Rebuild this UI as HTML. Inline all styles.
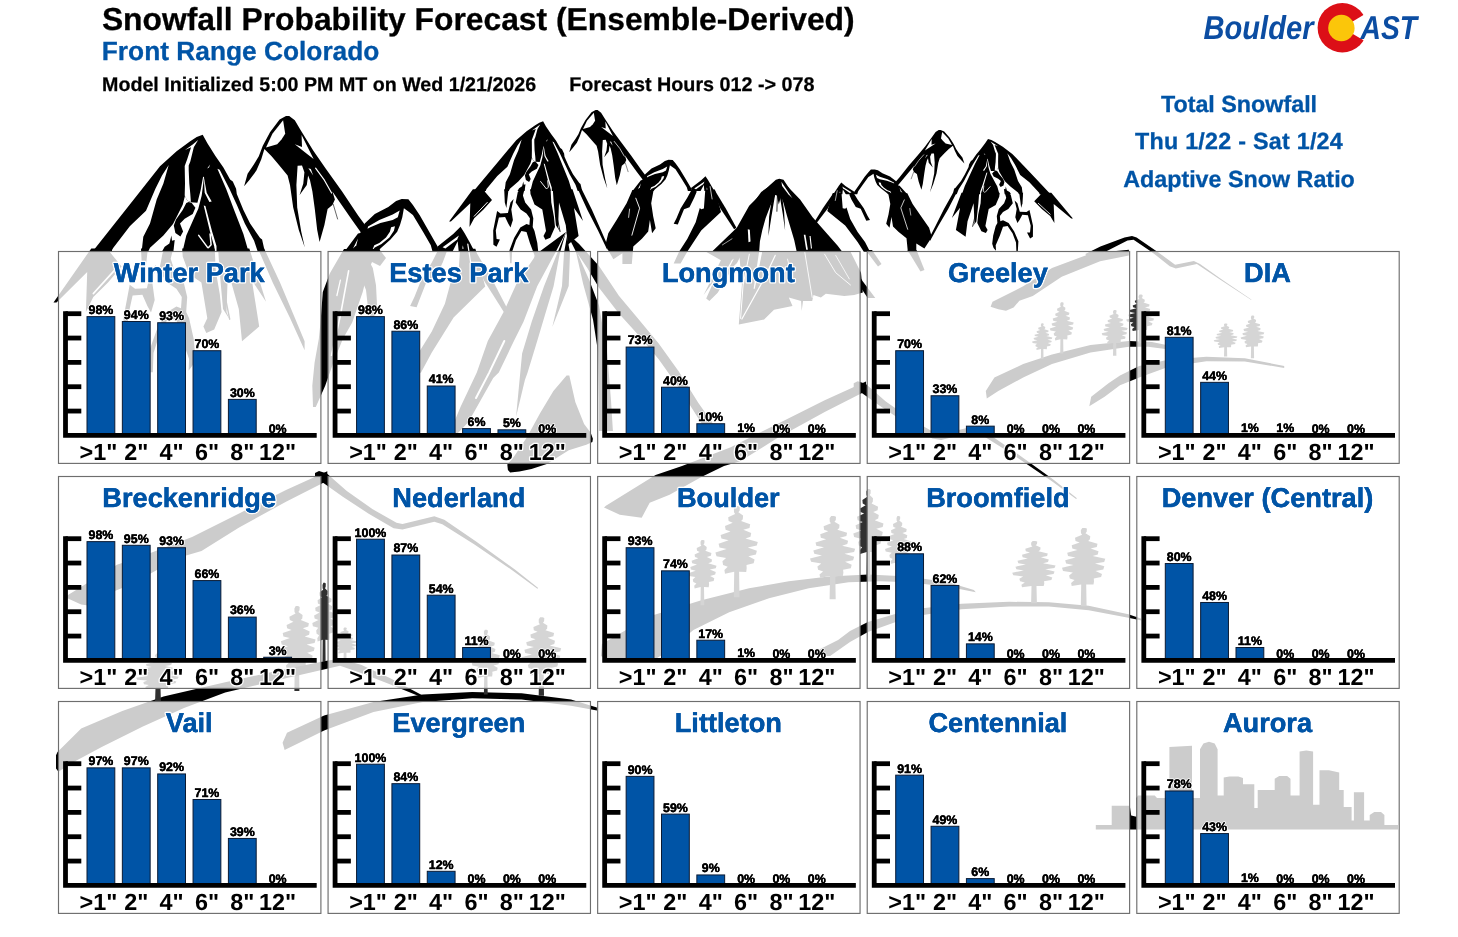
<!DOCTYPE html>
<html lang="en"><head><meta charset="utf-8"><title>Snowfall Probability Forecast</title>
<style>
html,body{margin:0;padding:0;background:#fff;}
body{width:1458px;height:937px;overflow:hidden;font-family:"Liberation Sans", sans-serif;}
svg{display:block;position:absolute;left:0;top:0;will-change:transform;}
text{font-family:"Liberation Sans", sans-serif;font-weight:bold;text-rendering:geometricPrecision;}
.t{font-size:27.2px;fill:#0054a6;text-anchor:middle;stroke:#fff;stroke-width:3px;paint-order:stroke;stroke-linejoin:round;}
.x{font-size:23.4px;fill:#000;text-anchor:middle;stroke:#fff;stroke-width:2.5px;paint-order:stroke;stroke-linejoin:round;}
.v{font-size:12.4px;fill:#000;text-anchor:middle;stroke:#fff;stroke-width:2px;paint-order:stroke;stroke-linejoin:round;}
.u{font-size:27.2px;fill:#0054a6;text-anchor:middle;stroke:#0054a6;stroke-width:0.4px;}
.w{font-size:12.4px;fill:#000;text-anchor:middle;stroke:#000;stroke-width:0.35px;}
.b{fill:#0054a6;stroke:#0a1a33;stroke-width:1px;}
.p{fill:rgba(255,255,255,0.8);stroke:#6e6e6e;stroke-width:1.15px;}
.ax{fill:none;stroke:#000;stroke-width:4.8px;}
.r{font-size:23.3px;fill:#0054a6;text-anchor:middle;stroke:#0054a6;stroke-width:0.3px;}
</style></head><body>
<svg width="1458" height="937" viewBox="0 0 1458 937">
<rect width="1458" height="937" fill="#fff"/>
<g id="mtn">
<polygon fill="#000" points="566.0,232.0 537.2,253.2 516.6,283.4 504.3,310.8 487.8,341.0 476.8,372.6 460.6,406.8 450.0,432.0 455.0,436.0 468.3,422.2 493.2,378.0 498.8,372.6 513.9,341.0 523.5,321.8 537.2,286.2 555.0,253.2"/>
<polyline fill="none" stroke="#fff" stroke-width="2.00" stroke-linejoin="round" stroke-linecap="round" points="504.3,341.0 489.2,372.6 476.0,398.0"/>
<polygon fill="#000" points="566.0,232.0 555.0,258.7 544.0,286.2 531.7,321.8 522.1,353.4 516.1,416.2 511.7,434.9 524.9,380.0 527.6,372.6 537.2,341.0 545.4,313.6 553.6,286.2 559.8,253.2"/>
<polygon fill="#000" points="567.0,236.0 570.0,253.0 568.7,286.0 552.3,327.0 562.0,286.0 564.0,253.0"/>
<polygon fill="#000" points="566.0,232.0 579.1,244.0 599.0,265.9 618.9,295.7 638.8,319.6 658.7,343.4 678.6,371.3 698.4,403.1 718.3,430.9 706.4,430.9 678.6,387.2 658.7,359.3 638.8,335.5 618.9,313.6 599.0,287.7 587.1,267.8 575.1,249.9"/>
<polygon fill="#000" points="575.1,248.0 589.1,279.8 599.0,305.6 607.0,351.4 610.9,399.1 612.9,430.9 599.0,430.9 599.0,399.1 598.0,351.4 593.0,319.6 583.1,283.8"/>
<polygon fill="#fff" points="244.1,186.3 249.2,180.2 256.4,170.6 261.2,159.4 264.4,149.0 271.6,156.2 279.6,165.8 287.6,175.4 290.0,185.0 293.2,207.4 298.8,229.9 304.8,247.5 312.0,300.0 320.0,341.0 304.6,341.3 294.8,317.8 280.0,282.4 264.8,251.4 260.1,238.1 250.1,223.4 243.4,210.1 236.8,194.0"/>
<polygon fill="#000" points="92.6,251.4 130.0,204.2 160.0,166.3 176.6,151.2 190.2,141.3 196.7,136.9 202.7,134.7 207.4,143.3 215.4,156.0 223.4,167.4 230.1,179.4 232.8,181.4 236.1,188.7 236.8,194.1 243.4,210.1 250.1,223.4 260.1,238.1 262.1,239.4 264.8,251.4"/>
<polygon fill="#fff" points="168.7,165.0 163.4,183.4 156.7,199.4 150.0,223.4 143.3,236.8 141.3,254.8 112.0,254.8 112.0,249.4 130.0,226.1 146.0,210.7 155.4,188.7 162.0,175.4"/>
<polygon fill="#fff" points="198.1,140.0 193.8,147.3 190.3,161.4 188.7,165.4 188.7,170.0 189.3,183.4 190.3,194.1 190.9,202.1 187.1,200.5 184.7,195.4 185.0,183.4 184.7,166.0 187.1,159.4 191.1,147.3 185.0,150.0 192.7,144.4"/>
<polygon fill="#fff" points="185.0,195.7 182.7,204.7 176.7,216.7 173.0,224.1 163.4,235.4 150.0,247.7 146.7,254.8 181.8,254.8 186.3,235.4 194.3,217.4 198.3,208.7 201.7,195.4 204.1,177.0 203.1,176.7 200.7,190.1 197.4,202.7 190.6,202.3 187.1,200.5"/>
<polygon fill="#000" points="188.7,202.1 191.7,203.1 195.4,207.7 192.7,214.1 184.7,218.7 180.0,223.4 183.1,231.4 180.4,236.4 175.4,233.0 173.8,225.4 176.0,219.4 182.7,210.1 186.3,203.1"/>
<polygon fill="#000" points="162.0,251.4 164.7,246.8 169.4,243.4 171.4,235.4 172.0,240.8 174.7,240.1 173.4,251.4"/>
<polygon fill="#fff" points="203.8,176.7 206.7,192.7 211.7,201.4 209.4,202.1 204.7,192.7"/>
<polygon fill="#fff" points="203.7,205.4 205.4,206.1 212.1,231.4 216.5,246.1 216.5,254.8 214.7,254.8 214.3,246.8 210.1,232.1"/>
<polyline fill="none" stroke="#fff" stroke-width="1.50" stroke-linejoin="round" stroke-linecap="round" points="198.7,235.4 208.1,248.1 211.1,244.8 210.1,234.1"/>
<polygon fill="#fff" points="217.4,168.7 219.7,169.8 229.4,188.7 236.8,204.7 244.8,223.4 254.1,240.8 258.8,254.8 249.4,254.8 243.4,234.1 234.1,210.1 226.1,188.7"/>
<polygon fill="#fff" points="207.1,168.4 210.1,164.4 209.0,167.6"/>
<polygon fill="#000" points="91.3,248.4 53.5,302.4 56.5,302.4 87.2,272.0 85.9,311.9 93.3,297.1 108.0,282.4 121.6,266.4 110.0,252.3 113.0,248.4"/>
<polyline fill="none" stroke="#fff" stroke-width="1.60" stroke-linejoin="round" stroke-linecap="round" points="114.2,270.6 93.3,293.6"/>
<polygon fill="#000" points="147.9,248.4 145.4,270.6 144.4,280.0 142.0,270.6 141.0,248.4"/>
<polygon fill="#000" points="156.0,264.7 151.0,270.6 146.9,288.3 135.1,288.8 129.7,284.7 123.5,317.8 123.8,341.3 128.7,344.9 134.1,332.5 128.9,331.9 127.7,317.8 132.6,295.6 142.4,294.7 147.4,306.0 151.0,312.4 154.7,300.1 152.3,282.4"/>
<polygon fill="#000" points="173.2,248.4 170.7,244.0 162.6,252.9 159.2,270.6 167.0,282.4 176.4,288.8 181.8,297.1 181.0,308.3 176.4,306.5 166.5,312.4 156.7,330.1 149.3,350.8 150.3,372.3 152.8,372.3 153.5,353.1 159.6,334.0 168.2,318.3 176.4,320.1 181.8,338.4 189.1,359.0 188.6,370.8 192.8,364.9 195.3,356.1 193.6,338.4 189.1,318.3 186.2,311.9 187.2,297.1 183.7,282.4 174.4,270.6 170.7,258.8"/>
<polygon fill="#000" points="214.7,248.4 215.7,270.6 219.8,294.2 221.6,311.9 214.2,329.6 206.3,333.1 203.4,326.6 207.3,318.3 201.4,282.4 189.1,274.1 182.7,256.4 182.2,248.4"/>
<polyline fill="none" stroke="#000" stroke-width="1.40" stroke-linejoin="round" stroke-linecap="round" points="223.5,288.3 229.7,319.2"/>
<polygon fill="#000" points="249.3,248.4 266.0,301.8 251.8,280.0 259.2,326.6 242.0,341.3 238.8,308.9 227.9,270.6 226.5,311.9 229.7,319.5 223.0,308.9 219.6,270.6 218.1,248.4"/>
<polygon fill="#000" points="264.1,248.4 280.0,282.4 294.8,317.8 304.6,341.3 304.6,350.2 289.9,317.8 272.7,282.4 257.9,248.4"/>
<polygon fill="#000" points="286.0,115.9 289.2,115.9 294.8,120.2 300.4,129.8 313.2,150.6 326.0,169.0 342.1,191.4 358.1,215.5 366.9,227.5 361.3,233.1 351.7,219.5 338.9,201.0 332.4,191.4 334.9,199.4 332.4,205.0 327.6,209.0 324.4,225.1 319.6,241.9 317.2,229.9 314.8,209.0 312.4,191.4 310.0,180.2 308.1,175.4 306.8,185.0 299.6,195.0 303.3,183.4 304.4,172.2 302.0,165.5 297.6,165.8 296.4,185.0 297.2,207.4 301.2,231.5 304.8,247.5 298.8,229.9 293.2,207.4 290.0,185.0 287.6,175.4 279.6,165.8 271.6,156.2 264.4,149.0 261.2,159.4 256.4,170.6 249.2,180.2 244.1,186.3 247.6,173.8 254.0,164.2 258.8,156.2 262.8,145.8 270.0,132.2 279.6,119.4"/>
<polygon fill="#fff" points="283.1,120.2 285.2,133.8 281.5,139.4 277.2,144.2 266.0,147.4 272.4,133.8"/>
<polygon fill="#fff" points="301.6,135.1 313.6,159.1 306.8,153.8 294.8,144.2 302.0,146.9"/>
<polyline fill="none" stroke="#fff" stroke-width="1.20" stroke-linejoin="round" stroke-linecap="round" points="315.6,168.2 324.4,180.2 331.6,193.0"/>
<polygon fill="#fff" points="308.4,168.2 313.2,175.4 310.8,169.0"/>
<polyline fill="none" stroke="#000" stroke-width="0.60" stroke-linejoin="round" stroke-linecap="round" points="333.2,204.2 337.6,219.0"/>
<polygon fill="#000" points="344.6,251.4 358.0,233.5 360.3,232.9 364.7,223.4 374.8,213.9 388.3,207.1 396.1,201.0 401.7,199.1 408.4,199.3 412.9,204.9 419.6,215.0 428.6,230.7 437.6,246.4 439.2,251.4 432.5,251.4 430.8,245.2 423.0,231.8 412.9,215.0 408.4,211.6 403.9,208.3 402.3,217.2 400.0,225.1 397.2,231.8 390.5,239.6 380.4,248.6 378.2,251.4"/>
<polygon fill="#fff" points="368.1,226.4 379.3,220.0 392.7,214.4 399.7,210.5 397.8,217.2 392.7,220.0 380.4,223.1 370.3,227.3 367.5,228.7"/>
<polygon fill="#fff" points="391.1,227.3 395.0,226.2 393.9,230.7 389.4,237.4 381.5,244.1 374.8,247.5 372.0,250.8 374.3,245.2 379.3,243.0 386.0,237.4 389.9,231.8"/>
<polygon fill="#fff" points="353.0,248.6 358.0,238.5 356.3,245.2"/>
<polygon fill="#000" points="437.6,246.4 453.2,234.0 460.5,226.8 464.5,232.9 470.1,243.0 474.5,251.4 438.7,251.4"/>
<polygon fill="#fff" points="442.6,247.3 458.9,235.4 457.2,239.6 445.4,248.6"/>
<polygon fill="#fff" points="451.6,253.6 457.7,241.3 458.9,253.6"/>
<polygon fill="#fff" points="461.7,253.6 462.8,245.2 464.5,253.6"/>
<polygon fill="#000" points="344.0,249.0 329.9,273.2 322.8,291.9 320.5,322.5 318.8,338.9 314.6,362.4 312.3,385.8 313.0,407.0 315.8,407.0 325.2,385.8 333.4,362.4 342.8,338.9 352.2,322.5 362.7,291.9 367.4,273.2 372.0,262.0 380.0,266.0 386.0,258.0 379.0,249.0"/>
<polygon fill="#000" points="364.0,252.0 372.8,268.0 376.0,285.2 377.0,305.0 372.5,323.0 368.0,308.0 366.0,290.0 358.0,270.0"/>
<polyline fill="none" stroke="#fff" stroke-width="1.60" stroke-linejoin="round" stroke-linecap="round" points="348.6,270.8 340.4,315.4 331.5,355.3"/>
<polyline fill="none" stroke="#fff" stroke-width="1.30" stroke-linejoin="round" stroke-linecap="round" points="340.4,280.2 336.9,295.5"/>
<polygon fill="#000" points="460.1,248.7 458.0,280.8 453.6,282.0 451.4,279.7 444.9,303.8 431.8,331.4 418.8,352.5 410.1,372.8 420.9,372.8 431.8,352.5 453.6,317.6 485.2,286.6 475.4,248.7"/>
<polygon fill="#000" points="471.0,249.8 484.1,280.8 505.9,315.3 509.6,313.0 492.8,280.8 474.9,249.8"/>
<polygon fill="#000" points="439.4,247.5 431.8,262.5 420.9,280.8 414.4,296.9 410.1,306.1 416.6,307.3 418.8,301.5 426.4,282.0 435.1,278.5 442.7,262.5 446.6,252.1"/>
<polyline fill="none" stroke="#fff" stroke-width="1.20" stroke-linejoin="round" stroke-linecap="round" points="467.8,244.1 471.0,264.8"/>
<polygon fill="#000" points="779.3,179.2 761.2,191.9 748.2,209.9 740.4,226.2 730.0,244.3 723.1,263.1 712.9,283.6 706.2,298.6 709.4,301.0 717.7,292.7 733.4,266.4 737.0,263.1 746.5,244.3 752.5,232.8 761.2,211.6 772.4,191.9"/>
<polyline fill="none" stroke="#fff" stroke-width="1.23" stroke-linejoin="round" stroke-linecap="round" points="740.4,244.3 730.9,263.1 722.6,278.3"/>
<polygon fill="#000" points="779.3,179.2 772.4,195.1 765.4,211.6 757.7,232.8 751.6,251.7 747.9,289.2 745.1,300.3 753.4,267.6 755.1,263.1 761.2,244.3 766.3,227.9 771.5,211.6 775.4,191.9"/>
<polygon fill="#000" points="779.9,181.6 781.8,191.7 781.0,211.4 770.7,235.9 776.8,211.4 778.0,191.7"/>
<polygon fill="#000" points="779.3,179.2 787.6,186.4 800.1,199.4 812.6,217.2 825.1,231.5 837.7,245.7 850.2,262.3 862.7,281.3 875.3,298.0 867.7,298.0 850.2,271.8 837.7,255.2 825.1,241.0 812.6,227.9 800.1,212.5 792.6,200.6 785.1,189.9"/>
<polygon fill="#000" points="785.1,188.7 793.8,207.7 800.1,223.2 805.1,250.5 807.6,279.0 808.9,298.0 800.1,298.0 800.1,279.0 799.5,250.5 796.3,231.5 790.1,210.1"/>
<polygon fill="#000" points="712.1,251.4 736.8,227.8 749.2,205.8 769.7,185.3 775.9,179.8 779.3,178.7 783.5,179.8 791.7,192.1 801.3,204.5 810.9,216.8 824.6,234.7 841.1,251.4"/>
<polygon fill="#fff" points="775.2,194.9 770.4,205.8 765.6,218.2 762.2,230.5 759.9,241.5 759.0,253.9 797.2,253.9 794.2,240.1 791.0,229.2 786.9,215.4 783.5,203.1 781.0,196.2 778.8,204.5 776.9,195.6"/>
<polygon fill="#000" points="772.8,192.8 775.2,194.2 771.4,216.8 768.4,236.0 769.1,216.8"/>
<polygon fill="#000" points="779.6,194.9 782.1,196.2 784.1,211.3 785.1,230.5 782.8,214.1"/>
<polyline fill="none" stroke="#000" stroke-width="0.80" stroke-linejoin="round" stroke-linecap="round" points="777.4,194.9 776.9,211.3"/>
<polygon fill="#fff" points="747.8,229.2 749.8,229.8 750.5,241.5 748.5,242.2"/>
<polyline fill="none" stroke="#fff" stroke-width="0.61" stroke-linejoin="round" stroke-linecap="round" points="722.4,244.9 732.0,238.8"/>
<polygon fill="#fff" points="803.8,234.7 805.4,234.7 807.9,249.7 806.2,249.7"/>
<polygon fill="#fff" points="809.5,236.0 810.6,236.0 812.0,248.4 810.9,248.4"/>
<polygon fill="#fff" points="781.4,181.8 792.4,198.3 788.3,194.2 782.1,186.0"/>
<polygon fill="#000" points="706.0,251.7 720.9,260.3 703.6,294.9 727.0,262.8 739.4,255.4 741.9,285.0 738.8,324.5 764.1,319.6 774.0,309.7 792.5,306.0 788.8,297.4 801.1,301.1 801.7,311.0 803.0,301.1 812.2,301.1 813.5,294.9 820.9,297.4 825.8,293.7 844.3,296.1 854.2,294.9 862.8,292.4 861.0,272.7 850.5,251.7"/>
<polyline fill="none" stroke="#fff" stroke-width="1.00" stroke-linejoin="round" stroke-linecap="round" points="749.3,254.2 743.1,285.0 740.6,318.4"/>
<polygon fill="#fff" points="759.1,251.7 762.2,251.7 754.8,288.7 753.6,288.7"/>
<polyline fill="none" stroke="#fff" stroke-width="1.20" stroke-linejoin="round" stroke-linecap="round" points="775.2,255.4 764.1,278.9 741.9,319.0"/>
<polyline fill="none" stroke="#fff" stroke-width="0.90" stroke-linejoin="round" stroke-linecap="round" points="804.8,252.3 812.2,297.4"/>
<polyline fill="none" stroke="#fff" stroke-width="0.90" stroke-linejoin="round" stroke-linecap="round" points="824.6,254.2 835.7,272.7 850.5,285.0"/>
<polyline fill="none" stroke="#fff" stroke-width="0.80" stroke-linejoin="round" stroke-linecap="round" points="835.7,255.4 849.3,278.9"/>
<polyline fill="none" stroke="#fff" stroke-width="0.80" stroke-linejoin="round" stroke-linecap="round" points="787.5,259.1 792.5,278.9"/>
<polygon fill="#fff" points="569.2,152.1 572.4,148.5 576.9,142.8 579.9,136.1 582.0,129.9 586.5,134.2 591.5,139.9 596.6,145.6 598.1,151.4 600.1,164.7 603.6,178.2 607.4,188.7 611.9,220.0 617.0,244.5 607.3,244.7 601.1,230.6 591.8,209.5 582.2,191.0 579.2,183.1 572.9,174.3 568.7,166.4 564.6,156.7"/>
<polygon fill="#000" points="473.7,191.0 497.3,162.8 516.2,140.2 526.6,131.2 535.2,125.3 539.3,122.7 543.1,121.3 546.0,126.5 551.1,134.1 556.1,140.8 560.3,148.0 562.0,149.2 564.1,153.6 564.5,156.8 568.8,166.3 573.0,174.3 579.3,183.1 580.5,183.9 582.2,191.0"/>
<polygon fill="#fff" points="521.7,139.4 518.3,150.4 514.1,160.0 509.9,174.3 505.7,182.3 504.4,193.0 485.9,193.0 485.9,189.8 497.3,175.9 507.4,166.7 513.3,153.6 517.5,145.6"/>
<polygon fill="#fff" points="540.2,124.5 537.5,128.9 535.3,137.3 534.3,139.6 534.3,142.4 534.6,150.4 535.3,156.8 535.6,161.6 533.3,160.6 531.8,157.6 531.9,150.4 531.8,140.0 533.3,136.1 535.8,128.9 531.9,130.5 536.8,127.1"/>
<polygon fill="#fff" points="531.9,157.7 530.5,163.2 526.7,170.3 524.4,174.7 518.3,181.5 509.9,188.8 507.8,193.0 529.9,193.0 532.8,181.5 537.8,170.7 540.3,165.5 542.4,157.6 543.9,146.6 543.4,146.4 541.8,154.4 539.7,162.0 535.5,161.7 533.3,160.6"/>
<polygon fill="#000" points="534.3,161.6 536.1,162.2 538.5,164.9 536.8,168.7 531.8,171.5 528.8,174.3 530.7,179.1 529.1,182.0 525.9,180.0 524.9,175.5 526.3,171.9 530.5,166.3 532.8,162.2"/>
<polygon fill="#000" points="517.5,191.0 519.1,188.2 522.1,186.3 523.3,181.5 523.8,184.7 525.5,184.3 524.6,191.0"/>
<polygon fill="#fff" points="543.8,146.4 545.6,156.0 548.7,161.2 547.3,161.6 544.4,156.0"/>
<polygon fill="#fff" points="543.7,163.5 544.8,163.9 549.0,179.1 551.8,187.8 551.8,193.0 550.7,193.0 550.4,188.2 547.7,179.5"/>
<polyline fill="none" stroke="#fff" stroke-width="0.92" stroke-linejoin="round" stroke-linecap="round" points="540.6,181.5 546.5,189.0 548.4,187.1 547.7,180.7"/>
<polygon fill="#fff" points="552.4,141.6 553.8,142.3 559.9,153.6 564.5,163.2 569.6,174.3 575.5,184.7 578.4,193.0 572.5,193.0 568.8,180.7 562.9,166.3 557.8,153.6"/>
<polygon fill="#fff" points="545.9,141.5 547.7,139.1 547.1,141.0"/>
<polygon fill="#000" points="472.9,189.2 449.1,221.5 450.9,221.5 470.3,203.3 469.5,227.1 474.2,218.3 483.5,209.5 492.0,200.0 484.7,191.5 486.6,189.2"/>
<polyline fill="none" stroke="#fff" stroke-width="0.98" stroke-linejoin="round" stroke-linecap="round" points="487.3,202.4 474.2,216.2"/>
<polygon fill="#000" points="508.5,189.2 507.0,202.4 506.4,208.1 504.8,202.4 504.2,189.2"/>
<polygon fill="#000" points="513.6,198.9 510.5,202.4 507.9,213.0 500.5,213.4 497.1,210.9 493.2,230.6 493.4,244.7 496.5,246.8 499.9,239.4 496.6,239.1 495.8,230.6 498.9,217.4 505.1,216.9 508.2,223.6 510.5,227.5 512.9,220.1 511.3,209.5"/>
<polygon fill="#000" points="524.5,189.2 522.9,186.6 517.8,191.9 515.7,202.4 520.6,209.5 526.5,213.4 529.9,218.3 529.4,225.0 526.5,223.9 520.3,227.5 514.1,238.0 509.5,250.3 510.1,263.2 511.6,263.2 512.1,251.8 516.0,240.3 521.4,231.0 526.5,232.0 529.9,242.9 534.5,255.3 534.2,262.3 536.9,258.8 538.4,253.5 537.3,242.9 534.5,231.0 532.7,227.1 533.3,218.3 531.1,209.5 525.2,202.4 522.9,195.4"/>
<polygon fill="#000" points="550.6,189.2 551.3,202.4 553.9,216.5 555.0,227.1 550.3,237.7 545.4,239.8 543.5,235.9 546.0,231.0 542.3,209.5 534.5,204.6 530.5,194.0 530.2,189.2"/>
<polyline fill="none" stroke="#000" stroke-width="0.86" stroke-linejoin="round" stroke-linecap="round" points="556.2,213.0 560.1,231.5"/>
<polygon fill="#000" points="572.5,189.2 583.0,221.1 574.0,208.1 578.6,235.9 567.8,244.7 565.8,225.3 559.0,202.4 558.1,227.1 560.1,231.7 555.9,225.3 553.7,202.4 552.8,189.2"/>
<polygon fill="#000" points="581.7,189.2 591.8,209.5 601.1,230.6 607.3,244.7 607.3,250.0 598.0,230.6 587.2,209.5 577.9,189.2"/>
<polygon fill="#000" points="595.6,110.1 597.6,110.1 601.1,112.7 604.7,118.4 612.7,130.8 620.8,141.8 630.9,155.2 641.0,169.5 646.5,176.7 643.0,180.1 636.9,171.9 628.9,160.9 624.8,155.2 626.3,160.0 624.8,163.3 621.8,165.7 619.8,175.3 616.8,185.3 615.2,178.1 613.7,165.7 612.2,155.2 610.7,148.5 609.5,145.7 608.7,151.4 604.2,157.3 606.5,150.4 607.2,143.7 605.7,139.7 602.8,139.9 602.1,151.4 602.6,164.8 605.2,179.1 607.4,188.7 603.6,178.1 600.1,164.8 598.1,151.4 596.6,145.7 591.5,139.9 586.5,134.2 582.0,129.9 579.9,136.1 576.9,142.8 572.4,148.5 569.2,152.2 571.4,144.7 575.4,139.0 578.4,134.2 581.0,128.0 585.5,119.9 591.5,112.2"/>
<polygon fill="#fff" points="593.8,112.7 595.1,120.8 592.8,124.2 590.0,127.0 583.0,128.9 587.0,120.8"/>
<polygon fill="#fff" points="605.4,121.6 612.9,135.9 608.7,132.8 601.1,127.0 605.7,128.6"/>
<polyline fill="none" stroke="#fff" stroke-width="0.74" stroke-linejoin="round" stroke-linecap="round" points="614.2,141.4 619.8,148.5 624.3,156.2"/>
<polygon fill="#fff" points="609.7,141.4 612.7,145.7 611.2,141.8"/>
<polyline fill="none" stroke="#000" stroke-width="0.45" stroke-linejoin="round" stroke-linecap="round" points="625.3,162.9 628.1,171.7"/>
<polygon fill="#000" points="632.5,191.0 640.9,180.3 642.3,180.0 645.2,174.3 651.5,168.6 660.0,164.6 664.9,160.9 668.5,159.8 672.7,159.9 675.5,163.2 679.8,169.3 685.4,178.6 691.0,188.0 692.1,191.0 687.9,191.0 686.8,187.3 681.9,179.3 675.5,169.3 672.7,167.3 669.9,165.3 668.8,170.6 667.4,175.3 665.6,179.3 661.4,184.0 655.0,189.3 653.6,191.0"/>
<polygon fill="#fff" points="647.3,176.1 654.3,172.3 662.8,168.9 667.2,166.6 666.0,170.6 662.8,172.3 655.0,174.1 648.7,176.6 646.9,177.4"/>
<polygon fill="#fff" points="661.8,176.6 664.2,176.0 663.5,178.6 660.7,182.6 655.8,186.7 651.5,188.7 649.8,190.7 651.2,187.3 654.3,186.0 658.6,182.6 661.0,179.3"/>
<polygon fill="#fff" points="637.8,189.3 640.9,183.3 639.9,187.3"/>
<polygon fill="#000" points="691.0,188.0 700.9,180.6 705.5,176.3 708.0,180.0 711.5,186.0 714.3,191.0 691.8,191.0"/>
<polygon fill="#fff" points="694.2,188.5 704.5,181.4 703.4,184.0 696.0,189.3"/>
<polygon fill="#fff" points="699.9,192.3 703.8,185.0 704.5,192.3"/>
<polygon fill="#fff" points="706.2,192.3 706.9,187.3 708.0,192.3"/>
<polygon fill="#000" points="632.4,189.9 626.6,203.2 616.6,219.9 608.3,233.2 605.8,243.2 606.6,247.4 613.4,259.3 622.4,253.2 622.4,264.0 631.8,264.0 633.3,246.5 641.9,238.7 648.2,231.5 649.9,219.9 652.1,233.2 655.7,228.2 653.2,216.6 651.2,203.2 653.6,189.9"/>
<polyline fill="none" stroke="#fff" stroke-width="0.92" stroke-linejoin="round" stroke-linecap="round" points="635.8,198.2 639.6,208.2 631.9,235.2"/>
<polyline fill="none" stroke="#fff" stroke-width="0.74" stroke-linejoin="round" stroke-linecap="round" points="629.6,209.1 628.6,217.4"/>
<polygon fill="#000" points="705.3,189.4 703.9,208.6 701.2,209.3 699.8,207.9 695.7,222.3 687.4,238.8 679.2,251.4 673.7,263.5 680.6,263.5 687.4,251.4 701.2,230.5 721.0,212.0 714.9,189.4"/>
<polygon fill="#000" points="712.1,190.1 720.4,208.6 734.1,229.2 736.4,227.8 725.8,208.6 714.6,190.1"/>
<polygon fill="#000" points="692.2,188.7 687.4,197.6 680.6,208.6 676.5,218.2 673.7,223.7 677.8,224.4 679.2,220.9 684.0,209.3 689.5,207.2 694.3,197.6 696.8,191.4"/>
<polyline fill="none" stroke="#fff" stroke-width="0.74" stroke-linejoin="round" stroke-linecap="round" points="710.1,186.6 712.1,199.0"/>
<polygon fill="#fff" points="964.4,163.3 961.5,160.5 957.4,155.9 954.7,150.6 952.9,145.7 948.8,149.1 944.2,153.6 939.7,158.2 938.3,162.7 936.5,173.3 933.3,184.0 929.9,192.4 925.8,217.2 921.2,236.7 930.0,236.8 935.6,225.7 944.0,208.9 952.6,194.2 955.3,187.9 961.0,180.9 964.8,174.6 968.6,167.0"/>
<polygon fill="#000" points="1050.6,194.2 1029.4,171.8 1012.3,153.9 1002.8,146.7 995.1,142.0 991.4,140.0 988.0,138.9 985.3,143.0 980.8,149.0 976.2,154.4 972.4,160.1 970.9,161.0 969.0,164.5 968.6,167.0 964.8,174.6 961.0,180.9 955.3,187.9 954.2,188.5 952.7,194.2"/>
<polygon fill="#fff" points="1007.3,153.2 1010.4,162.0 1014.2,169.6 1018.0,180.9 1021.8,187.3 1022.9,195.8 1039.6,195.8 1039.6,193.3 1029.4,182.2 1020.2,174.9 1014.9,164.5 1011.1,158.2"/>
<polygon fill="#fff" points="990.6,141.4 993.1,144.9 995.0,151.5 995.9,153.4 995.9,155.6 995.6,162.0 995.0,167.0 994.7,170.8 996.8,170.1 998.2,167.7 998.1,162.0 998.2,153.7 996.8,150.6 994.6,144.9 998.1,146.2 993.7,143.5"/>
<polygon fill="#fff" points="998.1,167.8 999.4,172.1 1002.8,177.8 1004.9,181.3 1010.4,186.6 1018.0,192.5 1019.9,195.8 999.9,195.8 997.3,186.6 992.7,178.1 990.5,174.0 988.6,167.7 987.2,158.9 987.7,158.8 989.1,165.1 991.0,171.1 994.9,170.9 996.8,170.1"/>
<polygon fill="#000" points="995.9,170.8 994.3,171.3 992.1,173.5 993.7,176.5 998.2,178.7 1000.9,180.9 999.1,184.7 1000.6,187.1 1003.5,185.5 1004.4,181.9 1003.2,179.0 999.4,174.6 997.3,171.3"/>
<polygon fill="#000" points="1011.1,194.2 1009.6,192.0 1006.9,190.4 1005.8,186.6 1005.4,189.2 1003.9,188.9 1004.7,194.2"/>
<polygon fill="#fff" points="987.4,158.8 985.7,166.4 982.9,170.5 984.2,170.8 986.8,166.4"/>
<polygon fill="#fff" points="987.4,172.4 986.4,172.7 982.6,184.7 980.1,191.7 980.1,195.8 981.1,195.8 981.4,192.0 983.8,185.1"/>
<polyline fill="none" stroke="#fff" stroke-width="0.78" stroke-linejoin="round" stroke-linecap="round" points="990.2,186.6 984.9,192.6 983.2,191.1 983.8,186.0"/>
<polygon fill="#fff" points="979.6,155.0 978.3,155.5 972.8,164.5 968.6,172.1 964.0,180.9 958.7,189.2 956.1,195.8 961.4,195.8 964.8,186.0 970.1,174.6 974.7,164.5"/>
<polygon fill="#fff" points="985.5,154.9 983.8,153.0 984.4,154.5"/>
<polygon fill="#000" points="1051.3,192.8 1072.9,218.4 1071.2,218.4 1053.7,204.0 1054.4,222.9 1050.2,215.9 1041.8,208.9 1034.2,201.3 1040.7,194.6 1039.0,192.8"/>
<polyline fill="none" stroke="#fff" stroke-width="0.83" stroke-linejoin="round" stroke-linecap="round" points="1038.3,203.3 1050.2,214.2"/>
<polygon fill="#000" points="1019.2,192.8 1020.6,203.3 1021.2,207.8 1022.5,203.3 1023.1,192.8"/>
<polygon fill="#000" points="1014.6,200.5 1017.4,203.3 1019.8,211.7 1026.5,212.0 1029.5,210.0 1033.0,225.7 1032.9,236.8 1030.1,238.5 1027.0,232.6 1030.0,232.4 1030.7,225.7 1027.9,215.2 1022.3,214.8 1019.5,220.1 1017.4,223.1 1015.3,217.3 1016.7,208.9"/>
<polygon fill="#000" points="1004.8,192.8 1006.2,190.7 1010.8,194.9 1012.8,203.3 1008.3,208.9 1003.0,212.0 999.9,215.9 1000.3,221.2 1003.0,220.3 1008.6,223.1 1014.2,231.5 1018.4,241.3 1017.8,251.5 1016.4,251.5 1016.0,242.4 1012.5,233.3 1007.6,225.9 1003.0,226.8 999.9,235.4 995.7,245.2 996.0,250.8 993.6,248.0 992.2,243.8 993.2,235.4 995.7,225.9 997.4,222.9 996.8,215.9 998.8,208.9 1004.1,203.3 1006.2,197.7"/>
<polygon fill="#000" points="981.2,192.8 980.6,203.3 978.2,214.5 977.3,222.9 981.4,231.2 985.9,232.9 987.6,229.9 985.4,225.9 988.7,208.9 995.7,205.0 999.3,196.6 999.6,192.8"/>
<polyline fill="none" stroke="#000" stroke-width="0.73" stroke-linejoin="round" stroke-linecap="round" points="976.1,211.7 972.6,226.4"/>
<polygon fill="#000" points="961.5,192.8 951.9,218.1 960.1,207.8 955.9,229.9 965.6,236.8 967.5,221.5 973.6,203.3 974.5,222.9 972.6,226.5 976.4,221.5 978.4,203.3 979.2,192.8"/>
<polygon fill="#000" points="953.1,192.8 944.0,208.9 935.6,225.7 930.0,236.8 930.0,241.0 938.4,225.7 948.2,208.9 956.6,192.8"/>
<polygon fill="#000" points="940.6,130.0 938.7,130.0 935.6,132.0 932.4,136.6 925.1,146.4 917.8,155.2 908.7,165.8 899.6,177.2 894.6,182.9 897.8,185.5 903.2,179.1 910.5,170.3 914.2,165.8 912.8,169.6 914.2,172.2 916.9,174.1 918.7,181.7 921.4,189.7 922.8,184.0 924.2,174.1 925.5,165.8 926.9,160.5 928.0,158.2 928.7,162.8 932.8,167.5 930.7,162.0 930.1,156.7 931.5,153.5 934.0,153.6 934.7,162.8 934.2,173.4 931.9,184.8 929.9,192.3 933.3,184.0 936.5,173.4 938.3,162.8 939.7,158.2 944.2,153.6 948.8,149.1 952.9,145.7 954.7,150.6 957.4,155.9 961.5,160.5 964.4,163.4 962.4,157.4 958.8,152.9 956.1,149.1 953.8,144.2 949.7,137.7 944.2,131.6"/>
<polygon fill="#fff" points="942.2,132.0 941.0,138.5 943.1,141.1 945.6,143.4 952.0,144.9 948.3,138.5"/>
<polygon fill="#fff" points="931.7,139.1 924.9,150.5 928.7,148.0 935.6,143.4 931.5,144.7"/>
<polyline fill="none" stroke="#fff" stroke-width="0.63" stroke-linejoin="round" stroke-linecap="round" points="923.7,154.8 918.7,160.5 914.6,166.5"/>
<polygon fill="#fff" points="927.8,154.8 925.1,158.2 926.5,155.2"/>
<polyline fill="none" stroke="#000" stroke-width="0.45" stroke-linejoin="round" stroke-linecap="round" points="913.7,171.9 911.2,178.8"/>
<polygon fill="#000" points="907.3,194.2 899.6,185.7 898.3,185.4 895.8,180.9 890.0,176.4 882.4,173.2 877.9,170.3 874.7,169.4 870.9,169.5 868.4,172.2 864.5,176.9 859.4,184.4 854.3,191.8 853.4,194.2 857.2,194.2 858.2,191.3 862.6,184.9 868.4,176.9 870.9,175.4 873.5,173.8 874.4,178.0 875.7,181.7 877.3,184.9 881.1,188.6 886.9,192.9 888.1,194.2"/>
<polygon fill="#fff" points="893.9,182.4 887.5,179.3 879.8,176.7 875.9,174.8 877.0,178.0 879.8,179.3 886.9,180.8 892.6,182.8 894.2,183.4"/>
<polygon fill="#fff" points="880.8,182.8 878.6,182.3 879.2,184.4 881.8,187.6 886.2,190.8 890.0,192.3 891.6,193.9 890.4,191.3 887.5,190.2 883.7,187.6 881.4,184.9"/>
<polygon fill="#fff" points="902.5,192.9 899.6,188.1 900.6,191.3"/>
<polygon fill="#000" points="854.3,191.8 845.4,186.0 841.3,182.5 839.0,185.4 835.9,190.2 833.3,194.2 853.7,194.2"/>
<polygon fill="#fff" points="851.5,192.2 842.2,186.6 843.2,188.6 849.9,192.9"/>
<polygon fill="#fff" points="846.4,195.3 842.9,189.4 842.2,195.3"/>
<polygon fill="#fff" points="840.6,195.3 840.0,191.3 839.0,195.3"/>
<polygon fill="#000" points="907.3,193.3 912.6,203.9 921.6,217.1 929.1,227.7 931.4,235.6 930.6,238.9 924.4,248.5 916.3,243.6 916.3,252.2 907.9,252.2 906.5,238.3 898.7,232.1 893.0,226.4 891.5,217.1 889.5,227.7 886.2,223.7 888.5,214.5 890.3,203.9 888.2,193.3"/>
<polyline fill="none" stroke="#fff" stroke-width="0.78" stroke-linejoin="round" stroke-linecap="round" points="904.3,199.9 900.8,207.9 907.7,229.3"/>
<polyline fill="none" stroke="#fff" stroke-width="0.63" stroke-linejoin="round" stroke-linecap="round" points="909.8,208.5 910.8,215.1"/>
<polygon fill="#000" points="841.5,192.9 842.7,208.2 845.2,208.7 846.5,207.6 850.2,219.1 857.6,232.1 865.0,242.1 870.0,251.7 863.8,251.7 857.6,242.1 845.2,225.6 827.3,210.9 832.8,192.9"/>
<polygon fill="#000" points="835.3,193.5 827.9,208.2 815.5,224.5 813.4,223.4 822.9,208.2 833.1,193.5"/>
<polygon fill="#000" points="853.3,192.4 857.6,199.4 863.8,208.2 867.5,215.8 870.0,220.1 866.3,220.7 865.0,218.0 860.7,208.7 855.8,207.1 851.4,199.4 849.2,194.5"/>
<polyline fill="none" stroke="#fff" stroke-width="0.63" stroke-linejoin="round" stroke-linecap="round" points="837.2,190.7 835.3,200.5"/>
<polygon fill="#000" points="865.5,250.0 872.0,250.0 881.5,264.0 878.0,266.5"/>
<polygon fill="#000" points="907.5,250.0 916.5,250.0 924.5,270.0 920.5,271.5"/>
<polygon fill="#000" points="992.5,301.7 1023.2,286.3 1052.0,268.0 1090.5,253.6 1128.9,249.8 1128.9,255.6 1100.1,261.3 1061.7,276.7 1032.8,295.9 1019.4,300.7 1013.6,307.4 1006.0,310.7 998.3,309.3 990.6,306.8"/>
<polygon fill="#000" points="1085.3,254.1 1100.4,246.6 1124.5,237.5 1132.0,236.0 1136.6,237.5 1157.7,251.9 1175.1,264.7 1193.9,260.9 1200.0,263.9 1221.1,279.0 1251.3,299.4 1251.3,300.0 1221.1,280.2 1196.9,263.9 1175.8,268.5 1169.8,266.2 1151.7,251.9 1133.6,239.8 1127.5,240.6 1104.9,251.9 1089.8,260.2"/>
<polygon fill="#000" points="985.8,391.0 994.4,377.5 1023.2,364.1 1052.0,354.5 1090.5,344.9 1128.9,341.0 1151.9,342.0 1175.0,346.8 1171.1,349.7 1148.1,346.8 1128.9,346.8 1090.5,352.5 1052.0,364.1 1023.2,377.5 998.3,391.0 986.8,398.6"/>
<polygon fill="#303030" points="1041.6,323.3 1042.8,323.3 1043.7,323.7 1043.6,325.1 1043.0,325.8 1045.3,327.1 1045.1,328.6 1044.3,329.3 1048.6,330.6 1048.3,332.0 1045.4,332.7 1049.1,334.0 1048.8,335.5 1046.4,336.1 1052.3,337.5 1051.8,338.9 1047.5,339.6 1051.8,340.9 1051.3,342.3 1047.8,343.0 1050.7,344.3 1050.3,345.8 1046.9,346.5 1047.0,347.8 1046.8,349.2 1043.4,349.1 1043.5,359.1 1040.9,359.1 1041.0,349.1 1036.6,349.9 1036.3,348.5 1037.9,347.2 1035.7,346.5 1035.4,345.0 1037.1,343.7 1032.6,343.0 1032.1,341.6 1037.4,340.3 1034.0,339.6 1033.6,338.1 1038.4,336.8 1034.9,336.1 1034.5,334.7 1039.3,333.4 1036.9,332.7 1036.6,331.3 1040.3,330.0 1038.4,329.3 1038.2,327.8 1041.5,326.5 1040.9,325.8 1040.9,324.4"/>
<polygon fill="#303030" points="1061.0,302.3 1062.6,302.3 1063.6,302.8 1063.5,304.9 1062.8,305.9 1065.4,307.7 1065.2,309.8 1064.3,310.8 1069.4,312.7 1069.0,314.7 1065.6,315.7 1070.0,317.6 1069.6,319.7 1066.8,320.7 1073.7,322.5 1073.1,324.6 1068.0,325.6 1073.2,327.5 1072.6,329.5 1068.4,330.5 1071.9,332.4 1071.4,334.5 1067.3,335.5 1067.5,337.3 1067.2,339.4 1063.2,339.3 1063.4,353.6 1060.2,353.6 1060.4,339.3 1055.2,340.4 1054.9,338.3 1056.8,336.5 1054.1,335.5 1053.7,333.4 1055.8,331.5 1050.4,330.5 1049.8,328.5 1056.1,326.6 1052.1,325.6 1051.6,323.5 1057.3,321.7 1053.2,320.7 1052.7,318.6 1058.3,316.7 1055.5,315.7 1055.2,313.7 1059.5,311.8 1057.3,310.8 1057.0,308.7 1060.9,306.8 1060.3,305.9 1060.2,303.8"/>
<polygon fill="#303030" points="1113.9,310.0 1115.5,310.0 1116.6,310.5 1116.5,312.3 1115.8,313.2 1118.6,314.9 1118.4,316.7 1117.4,317.6 1123.0,319.3 1122.5,321.1 1118.8,322.0 1123.5,323.7 1123.1,325.5 1120.1,326.4 1127.6,328.1 1127.0,329.9 1121.5,330.8 1127.0,332.5 1126.4,334.3 1121.8,335.2 1125.6,336.8 1125.1,338.7 1120.7,339.6 1120.8,341.2 1120.5,343.1 1116.2,343.0 1116.4,355.7 1113.0,355.7 1113.2,343.0 1107.6,344.0 1107.2,342.1 1109.2,340.4 1106.4,339.6 1106.0,337.7 1108.2,336.1 1102.4,335.2 1101.7,333.3 1108.6,331.7 1104.2,330.8 1103.6,328.9 1109.8,327.3 1105.4,326.4 1104.9,324.6 1110.9,322.9 1107.9,322.0 1107.6,320.2 1112.2,318.5 1109.8,317.6 1109.5,315.8 1113.7,314.1 1113.1,313.2 1113.0,311.4"/>
<polygon fill="#303030" points="1139.6,294.5 1141.4,294.5 1142.6,295.0 1142.5,297.0 1141.7,297.9 1144.8,299.7 1144.6,301.7 1143.5,302.6 1149.6,304.4 1149.1,306.4 1145.0,307.3 1150.2,309.1 1149.7,311.1 1146.4,312.1 1154.7,313.8 1154.0,315.8 1147.9,316.8 1154.0,318.6 1153.4,320.5 1148.3,321.5 1152.5,323.3 1151.9,325.2 1147.1,326.2 1147.2,328.0 1146.9,330.0 1142.2,329.9 1142.4,343.5 1138.6,343.5 1138.8,329.9 1132.7,330.9 1132.2,328.9 1134.5,327.1 1131.4,326.2 1130.9,324.2 1133.4,322.4 1127.0,321.5 1126.2,319.5 1133.8,317.7 1129.0,316.8 1128.3,314.8 1135.1,313.0 1130.2,312.1 1129.7,310.1 1136.4,308.3 1133.1,307.3 1132.7,305.4 1137.8,303.6 1135.1,302.6 1134.8,300.7 1139.5,298.9 1138.7,297.9 1138.6,295.9"/>
<polygon fill="#000" points="1091.2,396.7 1108.5,383.3 1120.0,375.6 1139.2,366.0 1168.0,359.8 1206.4,356.8 1244.8,358.3 1284.2,366.0 1284.2,367.9 1244.8,361.4 1206.4,361.2 1168.0,367.0 1139.2,377.5 1120.0,385.2 1104.6,396.7 1089.3,406.3"/>
<polygon fill="#303030" points="1224.8,323.4 1226.3,323.4 1227.3,323.7 1227.3,325.0 1226.6,325.7 1229.2,326.9 1229.0,328.2 1228.1,328.8 1233.2,330.1 1232.8,331.4 1229.4,332.0 1233.7,333.2 1233.3,334.6 1230.5,335.2 1237.4,336.4 1236.8,337.7 1231.8,338.4 1236.9,339.6 1236.3,340.9 1232.1,341.6 1235.6,342.8 1235.1,344.1 1231.1,344.7 1231.2,345.9 1230.9,347.3 1227.0,347.2 1227.2,356.4 1224.0,356.4 1224.2,347.2 1219.1,347.9 1218.7,346.6 1220.6,345.4 1218.0,344.7 1217.6,343.4 1219.7,342.2 1214.3,341.6 1213.7,340.2 1220.0,339.0 1216.0,338.4 1215.5,337.0 1221.1,335.8 1217.0,335.2 1216.6,333.9 1222.2,332.7 1219.4,332.0 1219.1,330.7 1223.3,329.5 1221.1,328.8 1220.9,327.5 1224.7,326.3 1224.1,325.7 1224.0,324.3"/>
<polygon fill="#303030" points="1251.8,315.6 1253.2,315.6 1254.2,316.0 1254.2,317.7 1253.5,318.5 1256.1,320.1 1255.9,321.8 1255.0,322.7 1260.1,324.2 1259.7,325.9 1256.3,326.8 1260.6,328.3 1260.2,330.1 1257.5,330.9 1264.3,332.4 1263.7,334.2 1258.7,335.0 1263.8,336.5 1263.2,338.3 1259.0,339.1 1262.5,340.7 1262.0,342.4 1258.0,343.2 1258.1,344.8 1257.8,346.5 1253.9,346.4 1254.1,358.3 1250.9,358.3 1251.1,346.4 1246.0,347.3 1245.6,345.6 1247.5,344.0 1244.9,343.2 1244.5,341.5 1246.6,339.9 1241.2,339.1 1240.6,337.4 1246.9,335.8 1242.9,335.0 1242.4,333.3 1248.0,331.7 1244.0,330.9 1243.5,329.1 1249.1,327.6 1246.3,326.8 1246.0,325.0 1250.2,323.5 1248.0,322.7 1247.8,320.9 1251.6,319.4 1251.0,318.5 1250.9,316.8"/>
<polygon fill="#000" points="327.3,471.2 286.0,489.9 239.1,513.4 192.1,536.9 143.3,555.7 116.9,564.7 67.2,595.5 65.3,597.2 81.1,604.4 103.0,607.4 111.0,592.5 130.9,584.5 162.7,566.7 185.3,555.7 201.5,551.0 239.1,527.5 286.0,501.7 327.3,480.7"/>
<polygon fill="#000" points="319.0,471.0 326.9,473.4 346.8,490.9 372.7,509.2 396.5,522.7 402.5,523.9 434.3,516.3 444.3,519.7 476.1,541.6 514.9,569.4 538.2,587.9 537.4,588.7 513.9,571.4 474.1,544.2 442.3,524.3 434.3,521.7 402.5,529.6 393.6,528.2 368.7,513.7 342.8,496.8 321.0,481.3 315.0,480.5 315.0,473.0"/>
<polygon fill="#000" points="866.0,381.5 824.7,400.2 777.8,423.7 730.8,447.2 682.0,466.0 655.6,475.0 605.9,505.8 604.0,507.5 619.8,514.7 641.7,517.7 649.7,502.8 669.6,494.8 701.4,477.0 724.0,466.0 740.2,461.3 777.8,437.8 824.7,412.0 866.0,391.0"/>
<polygon fill="#000" points="857.7,381.3 865.6,383.7 885.5,401.2 911.4,419.5 935.2,433.0 941.2,434.2 973.0,426.6 983.0,430.0 1014.8,451.9 1053.6,479.7 1076.9,498.2 1076.1,499.0 1052.6,481.7 1012.8,454.5 981.0,434.6 973.0,432.0 941.2,439.9 932.3,438.5 907.4,424.0 881.5,407.1 859.7,391.6 853.7,390.8 853.7,383.3"/>
<polygon fill="#000" points="600.9,655.9 601.9,644.0 649.7,616.2 701.4,600.2 749.1,588.3 788.9,581.3 828.7,576.4 868.4,574.4 908.2,576.4 948.0,582.3 973.9,589.9 975.8,592.3 948.0,586.7 908.2,582.3 880.0,581.3 848.6,582.3 808.8,588.3 769.0,598.3 729.2,612.2 693.4,630.1 669.6,650.0 655.6,658.9 605.9,658.9"/>
<polygon fill="#303030" points="701.5,539.9 703.3,539.9 704.5,540.6 704.4,543.2 703.5,544.5 706.7,546.9 706.5,549.5 705.3,550.7 711.4,553.1 710.9,555.8 706.9,557.0 712.0,559.4 711.6,562.1 708.3,563.3 716.5,565.7 715.8,568.3 709.8,569.6 715.8,572.0 715.2,574.6 710.2,575.9 714.3,578.3 713.7,580.9 708.9,582.1 709.1,584.5 708.7,587.2 704.0,587.0 704.3,605.2 700.5,605.2 700.7,587.0 694.6,588.4 694.2,585.8 696.4,583.4 693.3,582.1 692.8,579.5 695.3,577.1 688.9,575.9 688.2,573.2 695.7,570.8 690.9,569.6 690.3,566.9 697.0,564.6 692.2,563.3 691.6,560.7 698.3,558.3 695.0,557.0 694.6,554.4 699.7,552.0 697.0,550.7 696.7,548.1 701.3,545.7 700.6,544.5 700.5,541.8"/>
<polygon fill="#303030" points="735.3,505.9 738.0,505.9 739.8,506.8 739.7,510.5 738.4,512.2 743.1,515.6 742.8,519.2 741.1,521.0 750.2,524.3 749.5,528.0 743.4,529.8 751.2,533.1 750.5,536.8 745.5,538.6 757.8,541.9 756.8,545.6 747.8,547.4 756.9,550.7 755.9,554.4 748.4,556.2 754.6,559.5 753.7,563.2 746.5,565.0 746.7,568.3 746.2,572.0 739.1,571.8 739.5,597.3 733.8,597.3 734.2,571.8 725.0,573.8 724.4,570.1 727.7,566.7 723.1,565.0 722.4,561.3 726.1,557.9 716.5,556.2 715.4,552.5 726.6,549.1 719.5,547.4 718.6,543.7 728.6,540.3 721.4,538.6 720.6,534.9 730.5,531.6 725.6,529.8 725.0,526.1 732.7,522.8 728.6,521.0 728.2,517.3 735.1,514.0 734.0,512.2 733.9,508.5"/>
<polygon fill="#303030" points="831.2,515.9 834.1,515.9 836.0,516.7 835.8,520.1 834.5,521.7 839.5,524.7 839.2,528.1 837.4,529.7 847.1,532.7 846.4,536.1 839.9,537.7 848.1,540.8 847.3,544.1 842.1,545.7 855.2,548.8 854.1,552.1 844.5,553.8 854.2,556.8 853.1,560.2 845.1,561.8 851.7,564.8 850.8,568.2 843.1,569.8 843.4,572.8 842.8,576.2 835.3,576.0 835.7,599.2 829.6,599.2 830.0,576.0 820.2,577.8 819.5,574.4 823.1,571.4 818.1,569.8 817.4,566.4 821.3,563.4 811.1,561.8 810.0,558.4 821.9,555.4 814.3,553.8 813.3,550.4 824.0,547.3 816.3,545.7 815.5,542.4 826.1,539.3 820.8,537.7 820.2,534.3 828.3,531.3 824.1,529.7 823.6,526.3 831.0,523.3 829.8,521.7 829.6,518.3"/>
<polygon fill="#303030" points="867.5,489.0 869.4,489.0 870.7,489.9 870.6,493.4 869.7,495.1 873.0,498.3 872.8,501.8 871.6,503.5 878.1,506.7 877.6,510.2 873.3,511.9 878.8,515.1 878.2,518.6 874.7,520.3 883.5,523.5 882.7,527.0 876.3,528.7 882.8,531.9 882.1,535.4 876.8,537.1 881.2,540.3 880.5,543.8 875.4,545.5 875.6,548.7 875.2,552.2 870.2,552.1 870.5,576.4 866.4,576.4 866.7,552.1 860.1,553.9 859.7,550.4 862.1,547.2 858.8,545.5 858.3,542.0 860.9,538.8 854.1,537.1 853.3,533.6 861.3,530.4 856.2,528.7 855.6,525.2 862.7,522.0 857.6,520.3 857.0,516.8 864.1,513.6 860.5,511.9 860.1,508.4 865.6,505.2 862.7,503.5 862.4,499.9 867.3,496.8 866.5,495.1 866.4,491.5"/>
<polygon fill="#303030" points="897.4,516.1 899.1,516.1 900.2,516.7 900.1,519.3 899.3,520.5 902.3,522.9 902.1,525.5 901.0,526.7 906.7,529.1 906.3,531.7 902.5,532.9 907.3,535.3 906.8,537.9 903.8,539.1 911.4,541.4 910.8,544.0 905.2,545.3 910.8,547.6 910.2,550.2 905.5,551.5 909.4,553.8 908.9,556.4 904.4,557.6 904.5,560.0 904.2,562.6 899.8,562.5 900.0,580.4 896.5,580.4 896.7,562.5 891.0,563.8 890.6,561.2 892.7,558.9 889.8,557.6 889.4,555.0 891.7,552.7 885.7,551.5 885.0,548.9 892.0,546.5 887.6,545.3 887.0,542.7 893.3,540.3 888.8,539.1 888.2,536.5 894.4,534.1 891.4,532.9 891.0,530.3 895.8,528.0 893.3,526.7 893.0,524.1 897.3,521.8 896.6,520.5 896.5,517.9"/>
<polygon fill="#000" points="818.2,650.0 838.1,640.0 850.0,631.1 867.9,622.1 909.7,609.8 961.4,603.8 1009.1,601.8 1048.9,602.2 1088.7,605.8 1128.4,614.2 1140.8,618.5 1141.6,620.5 1128.4,617.7 1088.7,610.2 1048.9,606.6 1009.1,606.6 961.4,609.2 909.7,617.1 867.9,632.1 850.0,642.0 830.1,655.9 816.2,655.9"/>
<polygon fill="#303030" points="1032.6,541.0 1035.3,541.0 1037.2,541.6 1037.0,544.1 1035.7,545.3 1040.6,547.6 1040.2,550.1 1038.5,551.3 1047.8,553.5 1047.1,556.1 1040.9,557.3 1048.8,559.5 1048.0,562.1 1043.0,563.3 1055.6,565.5 1054.5,568.0 1045.3,569.2 1054.6,571.5 1053.6,574.0 1045.9,575.2 1052.3,577.5 1051.4,580.0 1044.0,581.2 1044.3,583.5 1043.7,586.0 1036.5,585.9 1036.9,603.2 1031.1,603.2 1031.5,585.9 1022.0,587.2 1021.4,584.7 1024.8,582.4 1020.1,581.2 1019.3,578.7 1023.1,576.4 1013.3,575.2 1012.2,572.7 1023.7,570.4 1016.4,569.2 1015.4,566.7 1025.7,564.5 1018.3,563.3 1017.5,560.7 1027.7,558.5 1022.6,557.3 1022.0,554.7 1029.9,552.5 1025.8,551.3 1025.3,548.8 1032.4,546.5 1031.2,545.3 1031.1,542.8"/>
<polygon fill="#303030" points="1082.3,527.9 1085.1,527.9 1086.9,528.6 1086.7,531.8 1085.5,533.3 1090.3,536.2 1089.9,539.3 1088.2,540.9 1097.5,543.7 1096.8,546.9 1090.6,548.4 1098.5,551.2 1097.8,554.4 1092.7,555.9 1105.3,558.8 1104.2,561.9 1095.0,563.5 1104.3,566.3 1103.3,569.5 1095.6,571.0 1102.0,573.9 1101.1,577.0 1093.8,578.5 1094.0,581.4 1093.5,584.6 1086.2,584.4 1086.6,606.2 1080.8,606.2 1081.2,584.4 1071.7,586.1 1071.1,582.9 1074.5,580.0 1069.8,578.5 1069.1,575.4 1072.8,572.5 1063.0,571.0 1062.0,567.8 1073.4,565.0 1066.1,563.5 1065.2,560.3 1075.5,557.4 1068.0,555.9 1067.2,552.8 1077.4,549.9 1072.3,548.4 1071.7,545.2 1079.6,542.4 1075.5,540.9 1075.0,537.7 1082.1,534.8 1081.0,533.3 1080.8,530.2"/>
<polygon fill="#000" points="1095.8,829.6 1095.8,825.1 1111.7,825.1 1111.7,805.8 1129.8,805.8 1131.2,815.6 1136.4,816.7 1136.4,797.9 1137.9,795.4 1154.7,795.6 1157.0,797.9 1169.4,797.9 1169.4,747.0 1192.0,745.8 1192.0,797.9 1200.0,797.9 1200.0,749.2 1203.4,743.6 1209.0,741.8 1214.7,743.6 1217.6,749.2 1217.6,795.6 1223.7,795.6 1223.7,777.5 1229.4,776.4 1238.4,776.4 1243.0,778.0 1243.0,784.3 1254.3,784.3 1254.3,808.1 1257.7,808.1 1257.7,790.0 1274.7,790.0 1274.7,778.7 1279.2,775.9 1287.1,775.9 1290.5,778.7 1290.5,795.6 1299.6,795.6 1299.6,751.5 1306.3,750.4 1313.1,751.5 1313.1,804.7 1319.5,804.7 1319.5,770.3 1329.0,770.3 1339.2,772.6 1339.2,790.0 1343.7,790.0 1343.7,807.0 1351.6,807.0 1351.6,820.5 1353.9,820.5 1353.9,792.2 1364.1,792.2 1364.1,820.5 1369.7,820.5 1369.7,814.9 1374.3,811.9 1381.0,811.9 1384.4,814.9 1384.4,825.1 1398.0,825.1 1398.0,829.6"/>
<polygon fill="#000" points="287.0,732.8 324.1,715.6 373.5,702.0 422.8,694.6 472.2,692.1 521.6,693.3 571.0,699.5 596.9,707.4 596.9,710.6 571.0,705.7 521.6,699.5 472.2,698.3 422.8,702.0 373.5,711.9 324.1,730.4 299.4,742.7 284.6,750.1 282.6,742.7"/>
<polygon fill="#303030" points="295.7,606.1 298.1,606.1 299.7,606.9 299.5,610.3 298.4,612.0 302.6,615.1 302.3,618.5 300.8,620.1 308.9,623.2 308.3,626.6 302.9,628.3 309.7,631.4 309.1,634.8 304.7,636.4 315.6,639.5 314.6,643.0 306.7,644.6 314.7,647.7 313.8,651.1 307.2,652.7 312.7,655.8 311.9,659.3 305.6,660.9 305.8,664.0 305.4,667.4 299.1,667.3 299.4,690.9 294.4,690.9 294.7,667.3 286.6,669.1 286.0,665.6 289.0,662.5 284.9,660.9 284.3,657.5 287.5,654.4 279.1,652.7 278.1,649.3 288.0,646.2 281.7,644.6 280.9,641.2 289.8,638.1 283.4,636.4 282.7,633.0 291.5,629.9 287.1,628.3 286.6,624.9 293.4,621.8 289.8,620.1 289.4,616.7 295.5,613.6 294.5,612.0 294.4,608.5"/>
<polygon fill="#303030" points="323.3,582.7 324.8,582.7 325.8,583.5 325.7,586.7 325.0,588.2 327.6,591.1 327.5,594.3 326.5,595.8 331.5,598.7 331.2,601.9 327.8,603.4 332.1,606.3 331.7,609.5 329.0,611.0 335.7,613.9 335.2,617.1 330.2,618.6 335.2,621.5 334.7,624.7 330.5,626.2 334.0,629.1 333.5,632.3 329.5,633.8 329.6,636.7 329.4,639.9 325.4,639.7 325.6,661.7 322.5,661.7 322.7,639.7 317.6,641.4 317.3,638.2 319.1,635.3 316.6,633.8 316.2,630.6 318.2,627.7 312.9,626.2 312.3,623.0 318.5,620.1 314.6,618.6 314.1,615.4 319.6,612.5 315.6,611.0 315.2,607.8 320.7,604.9 317.9,603.4 317.6,600.2 321.9,597.3 319.6,595.8 319.4,592.6 323.2,589.7 322.6,588.2 322.5,585.0"/>
<polygon fill="#303030" points="344.3,627.6 345.8,627.6 346.8,627.9 346.7,629.3 346.0,630.0 348.6,631.3 348.4,632.7 347.5,633.3 352.5,634.6 352.2,636.0 348.8,636.7 353.1,638.0 352.7,639.4 350.0,640.1 356.7,641.3 356.1,642.7 351.2,643.4 356.2,644.7 355.6,646.1 351.5,646.8 354.9,648.0 354.4,649.5 350.5,650.1 350.6,651.4 350.3,652.8 346.4,652.8 346.6,662.5 343.5,662.5 343.7,652.8 338.6,653.5 338.3,652.1 340.1,650.8 337.6,650.1 337.2,648.7 339.2,647.4 333.9,646.8 333.3,645.4 339.5,644.1 335.6,643.4 335.1,642.0 340.6,640.7 336.6,640.1 336.2,638.6 341.7,637.4 338.9,636.7 338.6,635.3 342.8,634.0 340.6,633.3 340.4,631.9 344.2,630.7 343.6,630.0 343.5,628.6"/>
<polygon fill="#303030" points="484.9,629.7 486.7,629.7 487.9,630.4 487.8,633.0 486.9,634.2 490.1,636.6 489.9,639.2 488.7,640.5 494.8,642.8 494.3,645.5 490.3,646.7 495.4,649.1 494.9,651.7 491.7,652.9 499.8,655.3 499.1,657.9 493.1,659.2 499.2,661.6 498.5,664.2 493.5,665.4 497.7,667.8 497.1,670.4 492.3,671.7 492.5,674.0 492.1,676.6 487.4,676.5 487.7,694.6 483.9,694.6 484.2,676.5 478.1,677.9 477.7,675.3 479.9,672.9 476.8,671.7 476.3,669.0 478.8,666.7 472.4,665.4 471.7,662.8 479.1,660.4 474.4,659.2 473.8,656.6 480.5,654.2 475.7,652.9 475.1,650.3 481.7,648.0 478.4,646.7 478.1,644.1 483.1,641.7 480.5,640.5 480.2,637.9 484.8,635.5 484.0,634.2 483.9,631.6"/>
<polygon fill="#303030" points="540.1,617.2 542.6,617.2 544.3,618.0 544.1,621.2 543.0,622.7 547.4,625.6 547.1,628.8 545.5,630.3 554.1,633.1 553.4,636.3 547.7,637.8 555.0,640.7 554.3,643.9 549.7,645.4 561.2,648.2 560.2,651.4 551.7,652.9 560.3,655.8 559.4,659.0 552.3,660.5 558.1,663.4 557.3,666.5 550.6,668.0 550.8,670.9 550.3,674.1 543.7,673.9 544.0,695.8 538.7,695.8 539.0,673.9 530.4,675.6 529.8,672.4 533.0,669.6 528.6,668.0 527.9,664.9 531.4,662.0 522.4,660.5 521.4,657.3 531.9,654.4 525.2,652.9 524.4,649.8 533.8,646.9 527.0,645.4 526.2,642.2 535.6,639.3 530.9,637.8 530.4,634.6 537.6,631.8 533.8,630.3 533.4,627.1 539.9,624.2 538.8,622.7 538.7,619.5"/>
<polygon fill="#000" points="566.6,375.6 553.4,391.0 540.2,412.9 527.1,437.1 513.9,456.8 507.3,464.5 507.9,470.0 510.1,472.4 519.4,471.6 531.5,469.1 546.8,464.0 568.8,450.2 586.3,444.7 592.4,442.0 592.9,438.7 590.7,432.7 584.1,423.9 575.3,401.9 569.3,375.6"/>
<polygon fill="#000" points="56.0,755.2 57.5,752.1 81.2,728.5 122.3,711.0 163.5,696.6 225.2,682.2 286.9,668.8 328.1,660.6 340.0,658.9 361.0,664.7 389.8,678.1 422.7,695.6 424.8,698.6 389.8,684.2 361.0,672.9 340.0,665.7 286.9,678.1 225.2,692.5 184.0,707.9 142.9,726.4 101.7,747.0 70.9,763.5 58.5,771.7 56.0,768.6"/>
<polygon fill="#303030" points="156.6,653.5 159.4,653.5 161.2,654.0 161.1,655.9 159.8,656.8 164.6,658.6 164.3,660.5 162.6,661.4 171.9,663.1 171.2,665.0 165.0,666.0 172.9,667.7 172.2,669.6 167.1,670.5 179.7,672.3 178.6,674.2 169.4,675.1 178.8,676.8 177.7,678.7 170.0,679.7 176.4,681.4 175.5,683.3 168.1,684.2 168.3,686.0 167.8,687.9 160.5,687.8 160.9,701.0 155.1,701.0 155.5,687.8 146.0,688.8 145.3,686.9 148.8,685.1 144.0,684.2 143.3,682.3 147.1,680.6 137.2,679.7 136.2,677.7 147.7,676.0 140.3,675.1 139.4,673.2 149.7,671.4 142.3,670.5 141.4,668.6 151.7,666.9 146.6,666.0 146.0,664.0 153.9,662.3 149.7,661.4 149.3,659.5 156.4,657.7 155.2,656.8 155.1,654.9"/>
</g>
<g transform="translate(58.50,251.50)">
<rect class="p" x="0" y="0" width="262.4" height="211.9"/>
<text class="t" x="130.7" y="30.6">Winter Park</text><text class="u" x="130.7" y="30.6">Winter Park</text>
<rect class="b" x="28.50" y="65.13" width="27.80" height="118.77"/>
<text class="v" x="42.40" y="62.53">98%</text><text class="w" x="42.40" y="62.53">98%</text>
<rect class="b" x="63.85" y="70.00" width="27.80" height="113.90"/>
<text class="v" x="77.75" y="67.40">94%</text><text class="w" x="77.75" y="67.40">94%</text>
<rect class="b" x="99.20" y="71.22" width="27.80" height="112.68"/>
<text class="v" x="113.10" y="68.62">93%</text><text class="w" x="113.10" y="68.62">93%</text>
<rect class="b" x="134.55" y="99.21" width="27.80" height="84.69"/>
<text class="v" x="148.45" y="96.61">70%</text><text class="w" x="148.45" y="96.61">70%</text>
<rect class="b" x="169.90" y="147.89" width="27.80" height="36.01"/>
<text class="v" x="183.80" y="145.29">30%</text><text class="w" x="183.80" y="145.29">30%</text>
<text class="v" x="219.15" y="181.80">0%</text><text class="w" x="219.15" y="181.80">0%</text>
<path class="ax" d="M7.00 59.80 V183.90 H258.20"/>
<path class="ax" d="M7.00 159.56 H22.80"/>
<path class="ax" d="M7.00 135.22 H22.80"/>
<path class="ax" d="M7.00 110.88 H22.80"/>
<path class="ax" d="M7.00 86.54 H22.80"/>
<path class="ax" d="M7.00 62.20 H22.80"/>
<text class="x" x="40.00" y="208.3">&gt;1"</text>
<text class="x" x="77.75" y="208.3">2"</text>
<text class="x" x="113.10" y="208.3">4"</text>
<text class="x" x="148.45" y="208.3">6"</text>
<text class="x" x="183.80" y="208.3">8"</text>
<text class="x" x="219.15" y="208.3">12"</text>
</g>
<g transform="translate(328.07,251.50)">
<rect class="p" x="0" y="0" width="262.4" height="211.9"/>
<text class="t" x="130.7" y="30.6">Estes Park</text><text class="u" x="130.7" y="30.6">Estes Park</text>
<rect class="b" x="28.50" y="65.13" width="27.80" height="118.77"/>
<text class="v" x="42.40" y="62.53">98%</text><text class="w" x="42.40" y="62.53">98%</text>
<rect class="b" x="63.85" y="79.74" width="27.80" height="104.16"/>
<text class="v" x="77.75" y="77.14">86%</text><text class="w" x="77.75" y="77.14">86%</text>
<rect class="b" x="99.20" y="134.50" width="27.80" height="49.40"/>
<text class="v" x="113.10" y="131.90">41%</text><text class="w" x="113.10" y="131.90">41%</text>
<rect class="b" x="134.55" y="177.10" width="27.80" height="6.80"/>
<text class="v" x="148.45" y="174.50">6%</text><text class="w" x="148.45" y="174.50">6%</text>
<rect class="b" x="169.90" y="178.31" width="27.80" height="5.59"/>
<text class="v" x="183.80" y="175.72">5%</text><text class="w" x="183.80" y="175.72">5%</text>
<text class="v" x="219.15" y="181.80">0%</text><text class="w" x="219.15" y="181.80">0%</text>
<path class="ax" d="M7.00 59.80 V183.90 H258.20"/>
<path class="ax" d="M7.00 159.56 H22.80"/>
<path class="ax" d="M7.00 135.22 H22.80"/>
<path class="ax" d="M7.00 110.88 H22.80"/>
<path class="ax" d="M7.00 86.54 H22.80"/>
<path class="ax" d="M7.00 62.20 H22.80"/>
<text class="x" x="40.00" y="208.3">&gt;1"</text>
<text class="x" x="77.75" y="208.3">2"</text>
<text class="x" x="113.10" y="208.3">4"</text>
<text class="x" x="148.45" y="208.3">6"</text>
<text class="x" x="183.80" y="208.3">8"</text>
<text class="x" x="219.15" y="208.3">12"</text>
</g>
<g transform="translate(597.65,251.50)">
<rect class="p" x="0" y="0" width="262.4" height="211.9"/>
<text class="t" x="130.7" y="30.6">Longmont</text><text class="u" x="130.7" y="30.6">Longmont</text>
<rect class="b" x="28.50" y="95.56" width="27.80" height="88.34"/>
<text class="v" x="42.40" y="92.96">73%</text><text class="w" x="42.40" y="92.96">73%</text>
<rect class="b" x="63.85" y="135.72" width="27.80" height="48.18"/>
<text class="v" x="77.75" y="133.12">40%</text><text class="w" x="77.75" y="133.12">40%</text>
<rect class="b" x="99.20" y="172.23" width="27.80" height="11.67"/>
<text class="v" x="113.10" y="169.63">10%</text><text class="w" x="113.10" y="169.63">10%</text>
<text class="v" x="148.45" y="180.58">1%</text><text class="w" x="148.45" y="180.58">1%</text>
<text class="v" x="183.80" y="181.80">0%</text><text class="w" x="183.80" y="181.80">0%</text>
<text class="v" x="219.15" y="181.80">0%</text><text class="w" x="219.15" y="181.80">0%</text>
<path class="ax" d="M7.00 59.80 V183.90 H258.20"/>
<path class="ax" d="M7.00 159.56 H22.80"/>
<path class="ax" d="M7.00 135.22 H22.80"/>
<path class="ax" d="M7.00 110.88 H22.80"/>
<path class="ax" d="M7.00 86.54 H22.80"/>
<path class="ax" d="M7.00 62.20 H22.80"/>
<text class="x" x="40.00" y="208.3">&gt;1"</text>
<text class="x" x="77.75" y="208.3">2"</text>
<text class="x" x="113.10" y="208.3">4"</text>
<text class="x" x="148.45" y="208.3">6"</text>
<text class="x" x="183.80" y="208.3">8"</text>
<text class="x" x="219.15" y="208.3">12"</text>
</g>
<g transform="translate(867.22,251.50)">
<rect class="p" x="0" y="0" width="262.4" height="211.9"/>
<text class="t" x="130.7" y="30.6">Greeley</text><text class="u" x="130.7" y="30.6">Greeley</text>
<rect class="b" x="28.50" y="99.21" width="27.80" height="84.69"/>
<text class="v" x="42.40" y="96.61">70%</text><text class="w" x="42.40" y="96.61">70%</text>
<rect class="b" x="63.85" y="144.24" width="27.80" height="39.66"/>
<text class="v" x="77.75" y="141.64">33%</text><text class="w" x="77.75" y="141.64">33%</text>
<rect class="b" x="99.20" y="174.66" width="27.80" height="9.24"/>
<text class="v" x="113.10" y="172.06">8%</text><text class="w" x="113.10" y="172.06">8%</text>
<text class="v" x="148.45" y="181.80">0%</text><text class="w" x="148.45" y="181.80">0%</text>
<text class="v" x="183.80" y="181.80">0%</text><text class="w" x="183.80" y="181.80">0%</text>
<text class="v" x="219.15" y="181.80">0%</text><text class="w" x="219.15" y="181.80">0%</text>
<path class="ax" d="M7.00 59.80 V183.90 H258.20"/>
<path class="ax" d="M7.00 159.56 H22.80"/>
<path class="ax" d="M7.00 135.22 H22.80"/>
<path class="ax" d="M7.00 110.88 H22.80"/>
<path class="ax" d="M7.00 86.54 H22.80"/>
<path class="ax" d="M7.00 62.20 H22.80"/>
<text class="x" x="40.00" y="208.3">&gt;1"</text>
<text class="x" x="77.75" y="208.3">2"</text>
<text class="x" x="113.10" y="208.3">4"</text>
<text class="x" x="148.45" y="208.3">6"</text>
<text class="x" x="183.80" y="208.3">8"</text>
<text class="x" x="219.15" y="208.3">12"</text>
</g>
<g transform="translate(1136.80,251.50)">
<rect class="p" x="0" y="0" width="262.4" height="211.9"/>
<text class="t" x="130.7" y="30.6">DIA</text><text class="u" x="130.7" y="30.6">DIA</text>
<rect class="b" x="28.50" y="85.82" width="27.80" height="98.08"/>
<text class="v" x="42.40" y="83.22">81%</text><text class="w" x="42.40" y="83.22">81%</text>
<rect class="b" x="63.85" y="130.85" width="27.80" height="53.05"/>
<text class="v" x="77.75" y="128.25">44%</text><text class="w" x="77.75" y="128.25">44%</text>
<text class="v" x="113.10" y="180.58">1%</text><text class="w" x="113.10" y="180.58">1%</text>
<text class="v" x="148.45" y="180.58">1%</text><text class="w" x="148.45" y="180.58">1%</text>
<text class="v" x="183.80" y="181.80">0%</text><text class="w" x="183.80" y="181.80">0%</text>
<text class="v" x="219.15" y="181.80">0%</text><text class="w" x="219.15" y="181.80">0%</text>
<path class="ax" d="M7.00 59.80 V183.90 H258.20"/>
<path class="ax" d="M7.00 159.56 H22.80"/>
<path class="ax" d="M7.00 135.22 H22.80"/>
<path class="ax" d="M7.00 110.88 H22.80"/>
<path class="ax" d="M7.00 86.54 H22.80"/>
<path class="ax" d="M7.00 62.20 H22.80"/>
<text class="x" x="40.00" y="208.3">&gt;1"</text>
<text class="x" x="77.75" y="208.3">2"</text>
<text class="x" x="113.10" y="208.3">4"</text>
<text class="x" x="148.45" y="208.3">6"</text>
<text class="x" x="183.80" y="208.3">8"</text>
<text class="x" x="219.15" y="208.3">12"</text>
</g>
<g transform="translate(58.50,476.50)">
<rect class="p" x="0" y="0" width="262.4" height="211.9"/>
<text class="t" x="130.7" y="30.6">Breckenridge</text><text class="u" x="130.7" y="30.6">Breckenridge</text>
<rect class="b" x="28.50" y="65.13" width="27.80" height="118.77"/>
<text class="v" x="42.40" y="62.53">98%</text><text class="w" x="42.40" y="62.53">98%</text>
<rect class="b" x="63.85" y="68.79" width="27.80" height="115.11"/>
<text class="v" x="77.75" y="66.19">95%</text><text class="w" x="77.75" y="66.19">95%</text>
<rect class="b" x="99.20" y="71.22" width="27.80" height="112.68"/>
<text class="v" x="113.10" y="68.62">93%</text><text class="w" x="113.10" y="68.62">93%</text>
<rect class="b" x="134.55" y="104.08" width="27.80" height="79.82"/>
<text class="v" x="148.45" y="101.48">66%</text><text class="w" x="148.45" y="101.48">66%</text>
<rect class="b" x="169.90" y="140.59" width="27.80" height="43.31"/>
<text class="v" x="183.80" y="137.99">36%</text><text class="w" x="183.80" y="137.99">36%</text>
<rect class="b" x="205.25" y="180.75" width="27.80" height="3.15"/>
<text class="v" x="219.15" y="178.15">3%</text><text class="w" x="219.15" y="178.15">3%</text>
<path class="ax" d="M7.00 59.80 V183.90 H258.20"/>
<path class="ax" d="M7.00 159.56 H22.80"/>
<path class="ax" d="M7.00 135.22 H22.80"/>
<path class="ax" d="M7.00 110.88 H22.80"/>
<path class="ax" d="M7.00 86.54 H22.80"/>
<path class="ax" d="M7.00 62.20 H22.80"/>
<text class="x" x="40.00" y="208.3">&gt;1"</text>
<text class="x" x="77.75" y="208.3">2"</text>
<text class="x" x="113.10" y="208.3">4"</text>
<text class="x" x="148.45" y="208.3">6"</text>
<text class="x" x="183.80" y="208.3">8"</text>
<text class="x" x="219.15" y="208.3">12"</text>
</g>
<g transform="translate(328.07,476.50)">
<rect class="p" x="0" y="0" width="262.4" height="211.9"/>
<text class="t" x="130.7" y="30.6">Nederland</text><text class="u" x="130.7" y="30.6">Nederland</text>
<rect class="b" x="28.50" y="62.70" width="27.80" height="121.20"/>
<text class="v" x="42.40" y="60.10">100%</text><text class="w" x="42.40" y="60.10">100%</text>
<rect class="b" x="63.85" y="78.52" width="27.80" height="105.38"/>
<text class="v" x="77.75" y="75.92">87%</text><text class="w" x="77.75" y="75.92">87%</text>
<rect class="b" x="99.20" y="118.68" width="27.80" height="65.22"/>
<text class="v" x="113.10" y="116.08">54%</text><text class="w" x="113.10" y="116.08">54%</text>
<rect class="b" x="134.55" y="171.01" width="27.80" height="12.89"/>
<text class="v" x="148.45" y="168.41">11%</text><text class="w" x="148.45" y="168.41">11%</text>
<text class="v" x="183.80" y="181.80">0%</text><text class="w" x="183.80" y="181.80">0%</text>
<text class="v" x="219.15" y="181.80">0%</text><text class="w" x="219.15" y="181.80">0%</text>
<path class="ax" d="M7.00 59.80 V183.90 H258.20"/>
<path class="ax" d="M7.00 159.56 H22.80"/>
<path class="ax" d="M7.00 135.22 H22.80"/>
<path class="ax" d="M7.00 110.88 H22.80"/>
<path class="ax" d="M7.00 86.54 H22.80"/>
<path class="ax" d="M7.00 62.20 H22.80"/>
<text class="x" x="40.00" y="208.3">&gt;1"</text>
<text class="x" x="77.75" y="208.3">2"</text>
<text class="x" x="113.10" y="208.3">4"</text>
<text class="x" x="148.45" y="208.3">6"</text>
<text class="x" x="183.80" y="208.3">8"</text>
<text class="x" x="219.15" y="208.3">12"</text>
</g>
<g transform="translate(597.65,476.50)">
<rect class="p" x="0" y="0" width="262.4" height="211.9"/>
<text class="t" x="130.7" y="30.6">Boulder</text><text class="u" x="130.7" y="30.6">Boulder</text>
<rect class="b" x="28.50" y="71.22" width="27.80" height="112.68"/>
<text class="v" x="42.40" y="68.62">93%</text><text class="w" x="42.40" y="68.62">93%</text>
<rect class="b" x="63.85" y="94.34" width="27.80" height="89.56"/>
<text class="v" x="77.75" y="91.74">74%</text><text class="w" x="77.75" y="91.74">74%</text>
<rect class="b" x="99.20" y="163.71" width="27.80" height="20.19"/>
<text class="v" x="113.10" y="161.11">17%</text><text class="w" x="113.10" y="161.11">17%</text>
<text class="v" x="148.45" y="180.58">1%</text><text class="w" x="148.45" y="180.58">1%</text>
<text class="v" x="183.80" y="181.80">0%</text><text class="w" x="183.80" y="181.80">0%</text>
<text class="v" x="219.15" y="181.80">0%</text><text class="w" x="219.15" y="181.80">0%</text>
<path class="ax" d="M7.00 59.80 V183.90 H258.20"/>
<path class="ax" d="M7.00 159.56 H22.80"/>
<path class="ax" d="M7.00 135.22 H22.80"/>
<path class="ax" d="M7.00 110.88 H22.80"/>
<path class="ax" d="M7.00 86.54 H22.80"/>
<path class="ax" d="M7.00 62.20 H22.80"/>
<text class="x" x="40.00" y="208.3">&gt;1"</text>
<text class="x" x="77.75" y="208.3">2"</text>
<text class="x" x="113.10" y="208.3">4"</text>
<text class="x" x="148.45" y="208.3">6"</text>
<text class="x" x="183.80" y="208.3">8"</text>
<text class="x" x="219.15" y="208.3">12"</text>
</g>
<g transform="translate(867.22,476.50)">
<rect class="p" x="0" y="0" width="262.4" height="211.9"/>
<text class="t" x="130.7" y="30.6">Broomfield</text><text class="u" x="130.7" y="30.6">Broomfield</text>
<rect class="b" x="28.50" y="77.30" width="27.80" height="106.60"/>
<text class="v" x="42.40" y="74.70">88%</text><text class="w" x="42.40" y="74.70">88%</text>
<rect class="b" x="63.85" y="108.95" width="27.80" height="74.95"/>
<text class="v" x="77.75" y="106.35">62%</text><text class="w" x="77.75" y="106.35">62%</text>
<rect class="b" x="99.20" y="167.36" width="27.80" height="16.54"/>
<text class="v" x="113.10" y="164.76">14%</text><text class="w" x="113.10" y="164.76">14%</text>
<text class="v" x="148.45" y="181.80">0%</text><text class="w" x="148.45" y="181.80">0%</text>
<text class="v" x="183.80" y="181.80">0%</text><text class="w" x="183.80" y="181.80">0%</text>
<text class="v" x="219.15" y="181.80">0%</text><text class="w" x="219.15" y="181.80">0%</text>
<path class="ax" d="M7.00 59.80 V183.90 H258.20"/>
<path class="ax" d="M7.00 159.56 H22.80"/>
<path class="ax" d="M7.00 135.22 H22.80"/>
<path class="ax" d="M7.00 110.88 H22.80"/>
<path class="ax" d="M7.00 86.54 H22.80"/>
<path class="ax" d="M7.00 62.20 H22.80"/>
<text class="x" x="40.00" y="208.3">&gt;1"</text>
<text class="x" x="77.75" y="208.3">2"</text>
<text class="x" x="113.10" y="208.3">4"</text>
<text class="x" x="148.45" y="208.3">6"</text>
<text class="x" x="183.80" y="208.3">8"</text>
<text class="x" x="219.15" y="208.3">12"</text>
</g>
<g transform="translate(1136.80,476.50)">
<rect class="p" x="0" y="0" width="262.4" height="211.9"/>
<text class="t" x="130.7" y="30.6">Denver (Central)</text><text class="u" x="130.7" y="30.6">Denver (Central)</text>
<rect class="b" x="28.50" y="87.04" width="27.80" height="96.86"/>
<text class="v" x="42.40" y="84.44">80%</text><text class="w" x="42.40" y="84.44">80%</text>
<rect class="b" x="63.85" y="125.98" width="27.80" height="57.92"/>
<text class="v" x="77.75" y="123.38">48%</text><text class="w" x="77.75" y="123.38">48%</text>
<rect class="b" x="99.20" y="171.01" width="27.80" height="12.89"/>
<text class="v" x="113.10" y="168.41">11%</text><text class="w" x="113.10" y="168.41">11%</text>
<text class="v" x="148.45" y="181.80">0%</text><text class="w" x="148.45" y="181.80">0%</text>
<text class="v" x="183.80" y="181.80">0%</text><text class="w" x="183.80" y="181.80">0%</text>
<text class="v" x="219.15" y="181.80">0%</text><text class="w" x="219.15" y="181.80">0%</text>
<path class="ax" d="M7.00 59.80 V183.90 H258.20"/>
<path class="ax" d="M7.00 159.56 H22.80"/>
<path class="ax" d="M7.00 135.22 H22.80"/>
<path class="ax" d="M7.00 110.88 H22.80"/>
<path class="ax" d="M7.00 86.54 H22.80"/>
<path class="ax" d="M7.00 62.20 H22.80"/>
<text class="x" x="40.00" y="208.3">&gt;1"</text>
<text class="x" x="77.75" y="208.3">2"</text>
<text class="x" x="113.10" y="208.3">4"</text>
<text class="x" x="148.45" y="208.3">6"</text>
<text class="x" x="183.80" y="208.3">8"</text>
<text class="x" x="219.15" y="208.3">12"</text>
</g>
<g transform="translate(58.50,701.50)">
<rect class="p" x="0" y="0" width="262.4" height="211.9"/>
<text class="t" x="130.7" y="30.6">Vail</text><text class="u" x="130.7" y="30.6">Vail</text>
<rect class="b" x="28.50" y="66.35" width="27.80" height="117.55"/>
<text class="v" x="42.40" y="63.75">97%</text><text class="w" x="42.40" y="63.75">97%</text>
<rect class="b" x="63.85" y="66.35" width="27.80" height="117.55"/>
<text class="v" x="77.75" y="63.75">97%</text><text class="w" x="77.75" y="63.75">97%</text>
<rect class="b" x="99.20" y="72.44" width="27.80" height="111.46"/>
<text class="v" x="113.10" y="69.84">92%</text><text class="w" x="113.10" y="69.84">92%</text>
<rect class="b" x="134.55" y="97.99" width="27.80" height="85.91"/>
<text class="v" x="148.45" y="95.39">71%</text><text class="w" x="148.45" y="95.39">71%</text>
<rect class="b" x="169.90" y="136.94" width="27.80" height="46.96"/>
<text class="v" x="183.80" y="134.34">39%</text><text class="w" x="183.80" y="134.34">39%</text>
<text class="v" x="219.15" y="181.80">0%</text><text class="w" x="219.15" y="181.80">0%</text>
<path class="ax" d="M7.00 59.80 V183.90 H258.20"/>
<path class="ax" d="M7.00 159.56 H22.80"/>
<path class="ax" d="M7.00 135.22 H22.80"/>
<path class="ax" d="M7.00 110.88 H22.80"/>
<path class="ax" d="M7.00 86.54 H22.80"/>
<path class="ax" d="M7.00 62.20 H22.80"/>
<text class="x" x="40.00" y="208.3">&gt;1"</text>
<text class="x" x="77.75" y="208.3">2"</text>
<text class="x" x="113.10" y="208.3">4"</text>
<text class="x" x="148.45" y="208.3">6"</text>
<text class="x" x="183.80" y="208.3">8"</text>
<text class="x" x="219.15" y="208.3">12"</text>
</g>
<g transform="translate(328.07,701.50)">
<rect class="p" x="0" y="0" width="262.4" height="211.9"/>
<text class="t" x="130.7" y="30.6">Evergreen</text><text class="u" x="130.7" y="30.6">Evergreen</text>
<rect class="b" x="28.50" y="62.70" width="27.80" height="121.20"/>
<text class="v" x="42.40" y="60.10">100%</text><text class="w" x="42.40" y="60.10">100%</text>
<rect class="b" x="63.85" y="82.17" width="27.80" height="101.73"/>
<text class="v" x="77.75" y="79.57">84%</text><text class="w" x="77.75" y="79.57">84%</text>
<rect class="b" x="99.20" y="169.80" width="27.80" height="14.10"/>
<text class="v" x="113.10" y="167.20">12%</text><text class="w" x="113.10" y="167.20">12%</text>
<text class="v" x="148.45" y="181.80">0%</text><text class="w" x="148.45" y="181.80">0%</text>
<text class="v" x="183.80" y="181.80">0%</text><text class="w" x="183.80" y="181.80">0%</text>
<text class="v" x="219.15" y="181.80">0%</text><text class="w" x="219.15" y="181.80">0%</text>
<path class="ax" d="M7.00 59.80 V183.90 H258.20"/>
<path class="ax" d="M7.00 159.56 H22.80"/>
<path class="ax" d="M7.00 135.22 H22.80"/>
<path class="ax" d="M7.00 110.88 H22.80"/>
<path class="ax" d="M7.00 86.54 H22.80"/>
<path class="ax" d="M7.00 62.20 H22.80"/>
<text class="x" x="40.00" y="208.3">&gt;1"</text>
<text class="x" x="77.75" y="208.3">2"</text>
<text class="x" x="113.10" y="208.3">4"</text>
<text class="x" x="148.45" y="208.3">6"</text>
<text class="x" x="183.80" y="208.3">8"</text>
<text class="x" x="219.15" y="208.3">12"</text>
</g>
<g transform="translate(597.65,701.50)">
<rect class="p" x="0" y="0" width="262.4" height="211.9"/>
<text class="t" x="130.7" y="30.6">Littleton</text><text class="u" x="130.7" y="30.6">Littleton</text>
<rect class="b" x="28.50" y="74.87" width="27.80" height="109.03"/>
<text class="v" x="42.40" y="72.27">90%</text><text class="w" x="42.40" y="72.27">90%</text>
<rect class="b" x="63.85" y="112.60" width="27.80" height="71.30"/>
<text class="v" x="77.75" y="110.00">59%</text><text class="w" x="77.75" y="110.00">59%</text>
<rect class="b" x="99.20" y="173.45" width="27.80" height="10.45"/>
<text class="v" x="113.10" y="170.85">9%</text><text class="w" x="113.10" y="170.85">9%</text>
<text class="v" x="148.45" y="181.80">0%</text><text class="w" x="148.45" y="181.80">0%</text>
<text class="v" x="183.80" y="181.80">0%</text><text class="w" x="183.80" y="181.80">0%</text>
<text class="v" x="219.15" y="181.80">0%</text><text class="w" x="219.15" y="181.80">0%</text>
<path class="ax" d="M7.00 59.80 V183.90 H258.20"/>
<path class="ax" d="M7.00 159.56 H22.80"/>
<path class="ax" d="M7.00 135.22 H22.80"/>
<path class="ax" d="M7.00 110.88 H22.80"/>
<path class="ax" d="M7.00 86.54 H22.80"/>
<path class="ax" d="M7.00 62.20 H22.80"/>
<text class="x" x="40.00" y="208.3">&gt;1"</text>
<text class="x" x="77.75" y="208.3">2"</text>
<text class="x" x="113.10" y="208.3">4"</text>
<text class="x" x="148.45" y="208.3">6"</text>
<text class="x" x="183.80" y="208.3">8"</text>
<text class="x" x="219.15" y="208.3">12"</text>
</g>
<g transform="translate(867.22,701.50)">
<rect class="p" x="0" y="0" width="262.4" height="211.9"/>
<text class="t" x="130.7" y="30.6">Centennial</text><text class="u" x="130.7" y="30.6">Centennial</text>
<rect class="b" x="28.50" y="73.65" width="27.80" height="110.25"/>
<text class="v" x="42.40" y="71.05">91%</text><text class="w" x="42.40" y="71.05">91%</text>
<rect class="b" x="63.85" y="124.77" width="27.80" height="59.13"/>
<text class="v" x="77.75" y="122.17">49%</text><text class="w" x="77.75" y="122.17">49%</text>
<rect class="b" x="99.20" y="177.10" width="27.80" height="6.80"/>
<text class="v" x="113.10" y="174.50">6%</text><text class="w" x="113.10" y="174.50">6%</text>
<text class="v" x="148.45" y="181.80">0%</text><text class="w" x="148.45" y="181.80">0%</text>
<text class="v" x="183.80" y="181.80">0%</text><text class="w" x="183.80" y="181.80">0%</text>
<text class="v" x="219.15" y="181.80">0%</text><text class="w" x="219.15" y="181.80">0%</text>
<path class="ax" d="M7.00 59.80 V183.90 H258.20"/>
<path class="ax" d="M7.00 159.56 H22.80"/>
<path class="ax" d="M7.00 135.22 H22.80"/>
<path class="ax" d="M7.00 110.88 H22.80"/>
<path class="ax" d="M7.00 86.54 H22.80"/>
<path class="ax" d="M7.00 62.20 H22.80"/>
<text class="x" x="40.00" y="208.3">&gt;1"</text>
<text class="x" x="77.75" y="208.3">2"</text>
<text class="x" x="113.10" y="208.3">4"</text>
<text class="x" x="148.45" y="208.3">6"</text>
<text class="x" x="183.80" y="208.3">8"</text>
<text class="x" x="219.15" y="208.3">12"</text>
</g>
<g transform="translate(1136.80,701.50)">
<rect class="p" x="0" y="0" width="262.4" height="211.9"/>
<text class="t" x="130.7" y="30.6">Aurora</text><text class="u" x="130.7" y="30.6">Aurora</text>
<rect class="b" x="28.50" y="89.47" width="27.80" height="94.43"/>
<text class="v" x="42.40" y="86.87">78%</text><text class="w" x="42.40" y="86.87">78%</text>
<rect class="b" x="63.85" y="132.07" width="27.80" height="51.83"/>
<text class="v" x="77.75" y="129.47">43%</text><text class="w" x="77.75" y="129.47">43%</text>
<text class="v" x="113.10" y="180.58">1%</text><text class="w" x="113.10" y="180.58">1%</text>
<text class="v" x="148.45" y="181.80">0%</text><text class="w" x="148.45" y="181.80">0%</text>
<text class="v" x="183.80" y="181.80">0%</text><text class="w" x="183.80" y="181.80">0%</text>
<text class="v" x="219.15" y="181.80">0%</text><text class="w" x="219.15" y="181.80">0%</text>
<path class="ax" d="M7.00 59.80 V183.90 H258.20"/>
<path class="ax" d="M7.00 159.56 H22.80"/>
<path class="ax" d="M7.00 135.22 H22.80"/>
<path class="ax" d="M7.00 110.88 H22.80"/>
<path class="ax" d="M7.00 86.54 H22.80"/>
<path class="ax" d="M7.00 62.20 H22.80"/>
<text class="x" x="40.00" y="208.3">&gt;1"</text>
<text class="x" x="77.75" y="208.3">2"</text>
<text class="x" x="113.10" y="208.3">4"</text>
<text class="x" x="148.45" y="208.3">6"</text>
<text class="x" x="183.80" y="208.3">8"</text>
<text class="x" x="219.15" y="208.3">12"</text>
</g>
<text x="101.9" y="29.6" style="font-size:31.8px;fill:#000;stroke:#000;stroke-width:0.3px;">Snowfall Probability Forecast (Ensemble-Derived)</text>
<text x="101.8" y="60.3" style="font-size:26.3px;fill:#0054a6;stroke:#0054a6;stroke-width:0.3px;">Front Range Colorado</text>
<text x="102.1" y="91.2" style="font-size:19.65px;fill:#000;stroke:#000;stroke-width:0.25px;">Model Initialized 5:00 PM MT on Wed 1/21/2026</text>
<text x="569.2" y="91.2" style="font-size:19.75px;fill:#000;stroke:#000;stroke-width:0.25px;">Forecast Hours 012 -&gt; 078</text>
<text class="r" x="1239" y="111.9">Total Snowfall</text>
<text class="r" x="1239" y="149" style="letter-spacing:0.25px">Thu 1/22 - Sat 1/24</text>
<text class="r" x="1239" y="186.6">Adaptive Snow Ratio</text>
<g id="logo">
<text x="1203.5" y="39.2" style="font-size:33px;font-style:italic;fill:#0c4da2;" textLength="110" lengthAdjust="spacingAndGlyphs">Boulder</text>
<circle cx="1342.3" cy="27.7" r="24.7" fill="#dc0f17"/>
<path d="M1342.3 27.7 L1375 8 L1375 47 Z" fill="#fff"/>
<circle cx="1341.4" cy="28" r="13.2" fill="#fbc60a"/>
<text x="1360.6" y="39.2" style="font-size:33px;font-style:italic;fill:#0c4da2;" textLength="56.5" lengthAdjust="spacingAndGlyphs">AST</text>
</g>
</svg>
</body></html>
